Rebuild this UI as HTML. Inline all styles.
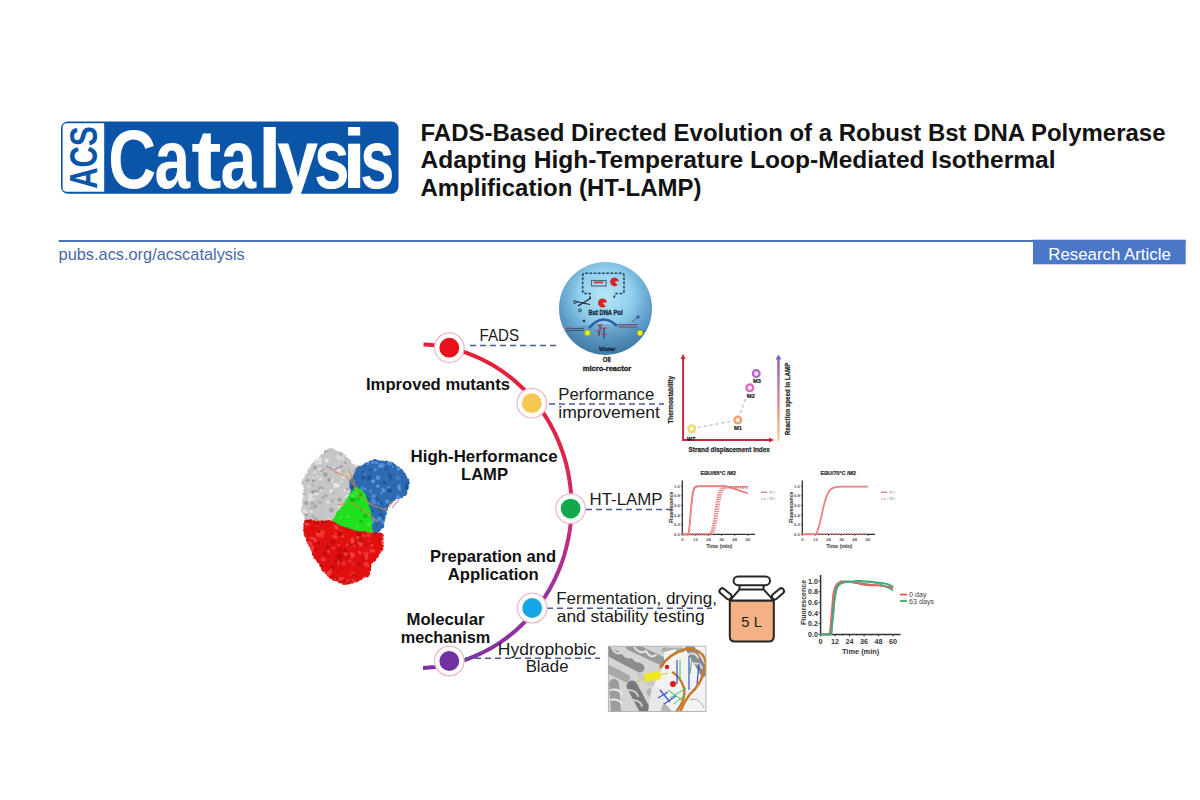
<!DOCTYPE html>
<html><head><meta charset="utf-8">
<style>
html,body{margin:0;padding:0;background:#fff;}
body{width:1200px;height:800px;overflow:hidden;position:relative;font-family:"Liberation Sans",sans-serif;}
svg{position:absolute;left:0;top:0;}
text{font-family:"Liberation Sans",sans-serif;}
</style></head>
<body>
<svg width="1200" height="800" viewBox="0 0 1200 800">
<defs>
  <linearGradient id="arcg" gradientUnits="userSpaceOnUse" x1="0" y1="344" x2="0" y2="668">
    <stop offset="0" stop-color="#e5203a"/>
    <stop offset="0.35" stop-color="#dc2448"/>
    <stop offset="0.55" stop-color="#c82c78"/>
    <stop offset="0.75" stop-color="#a0309c"/>
    <stop offset="1" stop-color="#7e32a2"/>
  </linearGradient>
  <radialGradient id="sph" cx="0.5" cy="0.36" r="0.62">
    <stop offset="0" stop-color="#b6e6f6"/>
    <stop offset="0.45" stop-color="#92d0ec"/>
    <stop offset="0.8" stop-color="#5e9ecb"/>
    <stop offset="1" stop-color="#4a84b4"/>
  </radialGradient>
  <linearGradient id="rarrow" x1="0" y1="1" x2="0" y2="0">
    <stop offset="0" stop-color="#e8dc98"/>
    <stop offset="0.45" stop-color="#e88a8a"/>
    <stop offset="1" stop-color="#8a62c0"/>
  </linearGradient>
</defs>

<!-- ===== Header ===== -->
<!-- logo -->
<rect x="61" y="121.5" width="337.5" height="72.2" rx="7" fill="#0b55a8"/>
<path d="M67 123.2 H104.2 V191.8 H67 Q62.6 191.8 62.6 187.4 V127.6 Q62.6 123.2 67 123.2 Z" fill="#fff"/>
<text transform="translate(96.5 188.76) rotate(-90) scale(0.759 1)" font-size="39" font-weight="700" fill="#0b55a8">ACS</text>
<g font-size="84" font-weight="700" fill="#fff">
<text transform="translate(108.31 188) scale(0.790 1)" x="0" y="0">C</text>
<text transform="translate(154.39 188) scale(0.762 1)" x="0" y="0">a</text>
<text transform="translate(191.21 188) scale(1.085 1)" x="0" y="0">t</text>
<text transform="translate(220.39 188) scale(0.762 1)" x="0" y="0">a</text>
<text transform="translate(257.6 188) scale(1.05 1)" x="0" y="0">l</text>
<text transform="translate(276.88 188) scale(0.881 1)" x="0" y="0">y</text>
<text transform="translate(313.96 188) scale(0.762 1)" x="0" y="0">s</text>
<text transform="translate(341.94 188) scale(1.044 1)" x="0" y="0">i</text>
<text transform="translate(360.31 188) scale(0.731 1)" x="0" y="0">s</text>
</g>
<!-- title -->
<g fill="#121212" font-weight="700" font-size="23.5">
<text x="420.5" y="140.8" textLength="745" lengthAdjust="spacingAndGlyphs">FADS-Based Directed Evolution of a Robust Bst DNA Polymerase</text>
<text x="420.5" y="168.3" textLength="635" lengthAdjust="spacingAndGlyphs">Adapting High-Temperature Loop-Mediated Isothermal</text>
<text x="420.5" y="195.8" textLength="281" lengthAdjust="spacingAndGlyphs">Amplification (HT-LAMP)</text>
</g>

<!-- rule + journal -->
<rect x="58.7" y="240" width="1127" height="2" fill="#4a72b8"/>
<text x="58.6" y="259.5" font-size="16.2" fill="#4a68a6" textLength="186.2" lengthAdjust="spacingAndGlyphs">pubs.acs.org/acscatalysis</text>
<rect x="1033" y="239.7" width="152.7" height="24.6" fill="#4a78c6"/>
<text x="1048.3" y="259.8" font-size="16.8" fill="#fff" textLength="122.5" lengthAdjust="spacingAndGlyphs">Research Article</text>

<!-- ===== Diagram ===== -->
<!-- arc -->
<path d="M423.5 344.4 L429.4 344.8 L435.3 345.4 L441.2 346.3 L447.0 347.4 L452.8 348.7 L458.5 350.3 L464.1 352.0 L469.7 354.1 L475.3 356.3 L480.7 358.7 L486.0 361.4 L491.3 364.3 L496.4 367.4 L501.4 370.7 L506.3 374.1 L511.1 377.8 L515.7 381.7 L520.1 385.7 L524.5 389.9 L528.6 394.3 L532.6 398.9 L536.5 403.6 L540.1 408.4 L543.6 413.4 L546.9 418.6 L550.0 423.8 L552.9 429.2 L555.6 434.7 L558.1 440.3 L560.4 446.0 L562.5 451.8 L564.4 457.7 L566.1 463.6 L567.5 469.6 L568.7 475.6 L569.7 481.7 L570.5 487.9 L571.1 494.0 L571.4 500.2 L571.5 506.4 L571.4 512.5 L571.0 518.7 L570.5 524.9 L569.7 531.0 L568.6 537.1 L567.4 543.1 L565.9 549.1 L564.3 555.0 L562.4 560.9 L560.2 566.7 L557.9 572.4 L555.4 577.9 L552.7 583.4 L549.8 588.8 L546.6 594.1 L543.3 599.2 L539.8 604.2 L536.2 609.0 L532.3 613.7 L528.3 618.2 L524.1 622.6 L519.8 626.8 L515.3 630.9 L510.7 634.7 L505.9 638.4 L501.0 641.8 L496.0 645.1 L490.8 648.2 L485.6 651.0 L480.2 653.7 L474.8 656.1 L469.3 658.3 L463.7 660.3 L458.0 662.1 L452.3 663.6 L446.5 664.9 L440.7 666.0 L434.8 666.9 L428.9 667.5 L423.0 667.9" fill="none" stroke="url(#arcg)" stroke-width="4"/>

<!-- dashed connectors -->
<g stroke="#4a5a92" stroke-width="1.5" stroke-dasharray="6 4" fill="none">
<line x1="470" y1="345.5" x2="556" y2="345.5"/>
<line x1="549" y1="404" x2="664" y2="404"/>
<line x1="586" y1="509.6" x2="672" y2="509.6"/>
<line x1="547" y1="608.3" x2="712" y2="608.3"/>
<line x1="465" y1="658.3" x2="600" y2="658.3"/>
</g>

<!-- nodes -->
<g stroke="#ecb6c6" stroke-width="1.2" fill="#fff">
<circle cx="449.3" cy="347.7" r="14.8"/>
<circle cx="531.8" cy="403.2" r="14.8"/>
<circle cx="570.6" cy="508.6" r="14.8"/>
<circle cx="532.2" cy="608" r="14.8"/>
<circle cx="449.3" cy="661" r="14.8"/>
</g>
<circle cx="449.3" cy="347.7" r="9.9" fill="#e8101c"/>
<circle cx="531.8" cy="403.2" r="9.9" fill="#f6c852"/>
<circle cx="570.6" cy="508.6" r="9.9" fill="#12a84e"/>
<circle cx="532.2" cy="608" r="9.9" fill="#14a6e6"/>
<circle cx="449.3" cy="661" r="9.9" fill="#7030a0"/>

<!-- regular labels -->
<g fill="#1a1a1a" font-size="16.5">
<text x="479.5" y="340.5" textLength="39.5" lengthAdjust="spacingAndGlyphs">FADS</text>
<text x="558.3" y="400" textLength="96" lengthAdjust="spacingAndGlyphs">Performance</text>
<text x="558.3" y="418.2" textLength="101.5" lengthAdjust="spacingAndGlyphs">improvement</text>
<text x="589.5" y="505.3" textLength="73" lengthAdjust="spacingAndGlyphs">HT-LAMP</text>
<text x="556.2" y="603.6" textLength="160.8" lengthAdjust="spacingAndGlyphs">Fermentation, drying,</text>
<text x="556.8" y="622.1" textLength="147.8" lengthAdjust="spacingAndGlyphs">and stability testing</text>
<text x="497.8" y="654.5" textLength="98.2" lengthAdjust="spacingAndGlyphs">Hydrophobic</text>
<text x="525.7" y="671.8" textLength="42.8" lengthAdjust="spacingAndGlyphs">Blade</text>
</g>
<!-- bold labels -->
<g fill="#111" font-size="17" font-weight="700">
<text x="366" y="390" textLength="144" lengthAdjust="spacingAndGlyphs">Improved mutants</text>
<text x="410.6" y="461.6" textLength="147" lengthAdjust="spacingAndGlyphs">High-Herformance</text>
<text x="461" y="480" textLength="47" lengthAdjust="spacingAndGlyphs">LAMP</text>
<text x="430" y="562" textLength="126" lengthAdjust="spacingAndGlyphs">Preparation and</text>
<text x="447.8" y="580" textLength="91" lengthAdjust="spacingAndGlyphs">Application</text>
<text x="406.5" y="624.7" textLength="78" lengthAdjust="spacingAndGlyphs">Molecular</text>
<text x="400.8" y="642.7" textLength="89.5" lengthAdjust="spacingAndGlyphs">mechanism</text>
</g>

<!-- sphere -->
<circle cx="605.5" cy="308.4" r="46.5" fill="url(#sph)"/>
<clipPath id="sphc"><circle cx="605.5" cy="308.4" r="46.5"/></clipPath>
<g clip-path="url(#sphc)"><ellipse cx="605.5" cy="360" rx="70" ry="36" fill="#2e5e80" opacity="0.22"/></g>
<!-- dashed bubble -->
<path d="M590 299 L590 293.5 L585 293.5 Q582.7 293.5 582.7 291 V275.5 Q582.7 273.2 585 273.2 H621.5 Q624 273.2 624 275.5 V291 Q624 293.5 621.5 293.5 H616 L613 299" fill="none" stroke="#2a4868" stroke-width="1.6" stroke-dasharray="2.8 1.4"/>
<rect x="591.5" y="280.5" width="14.5" height="5.5" fill="none" stroke="#4a6a7a" stroke-width="1.1"/>
<path d="M594 282.4 H603" stroke="#e02828" stroke-width="1.8" fill="none"/>
<path d="M614.50 281.80 L617.61 284.91 A4.40 4.40 0 1 1 618.83 281.04 Z" fill="#d82424"/>
<path d="M602.50 303.00 L605.68 306.18 A4.50 4.50 0 1 1 606.93 302.22 Z" fill="#d82424"/>
<!-- scissors -->
<path d="M576 301.5 L590 304.5 M578 306 L591 298" stroke="#1a2030" stroke-width="1.2" fill="none"/>
<circle cx="575" cy="302" r="1.4" fill="none" stroke="#1a2a48" stroke-width="0.9"/>
<circle cx="580" cy="310.5" r="1.4" fill="none" stroke="#1a2a48" stroke-width="0.9"/>
<text x="588.5" y="314.5" font-size="6.6" font-weight="700" fill="#1a2a48" stroke="#1a2a48" stroke-width="0.35" textLength="34" lengthAdjust="spacingAndGlyphs">Bst DNA Pol</text>
<!-- blue arc -->
<path d="M589 328 Q603 312 617 326" stroke="#2c5ea8" stroke-width="2.6" fill="none"/>
<g stroke="#c03040" stroke-width="1">
<path d="M597 325 H603 M601 328 H607 M596 331 H602 M601 334 H607"/>
</g>
<g stroke="#1a2a60" stroke-width="1">
<path d="M600 325 V330 M604 328 V333 M599 331 V336 M604 334 V339"/>
</g>
<!-- strands -->
<path d="M566 328.5 H584 M566 330.5 H584" stroke="#3a4a58" stroke-width="0.8"/>
<path d="M567 328 H572" stroke="#c04050" stroke-width="1"/>
<path d="M618 324.5 H638 M618 327 H638" stroke="#4a4a6a" stroke-width="0.8"/>
<path d="M619 325.7 H637" stroke="#c05070" stroke-width="0.8"/>
<circle cx="587.5" cy="333" r="3" fill="#e8ee20" stroke="#6a8a20" stroke-width="0.6"/>
<circle cx="640" cy="333" r="3" fill="#e8ee20" stroke="#6a8a20" stroke-width="0.6"/>
<circle cx="584" cy="321" r="1.2" fill="#1a2a60"/>
<circle cx="638" cy="317" r="1.2" fill="none" stroke="#1a2a60" stroke-width="0.8"/>
<path d="M632 322 L637 318" stroke="#3a4a6a" stroke-width="0.7"/>
<text x="599" y="351.3" font-size="6.2" font-weight="700" fill="#1a2a40" stroke="#1a2a40" stroke-width="0.3" textLength="16.3" lengthAdjust="spacingAndGlyphs">Water</text>
<text x="602.8" y="361.7" font-size="6.4" font-weight="700" fill="#222" stroke="#222" stroke-width="0.3" textLength="8" lengthAdjust="spacingAndGlyphs">Oil</text>
<text x="582.8" y="370.7" font-size="7.4" font-weight="700" fill="#222" stroke="#222" stroke-width="0.3" textLength="48.4" lengthAdjust="spacingAndGlyphs">micro-reactor</text>


<!-- scatter chart -->
<path d="M683.1 441 V358" stroke="#c42a3a" stroke-width="2" fill="none"/>
<path d="M680.6 359 L683.1 353.8 L685.6 359 Z" fill="#c42a3a"/>
<path d="M682.1 440 H770" stroke="#c42a3a" stroke-width="2" fill="none"/>
<path d="M769 437.5 L774.2 440 L769 442.5 Z" fill="#c42a3a"/>
<rect x="777.2" y="358" width="2.5" height="83" fill="url(#rarrow)"/>
<path d="M775.6 359.5 L778.45 354.5 L781.3 359.5 Z" fill="#7e5cc0"/>
<text transform="translate(672.8 399.8) rotate(-90)" font-size="6.6" font-weight="700" fill="#2a2a2a" stroke="#2a2a2a" stroke-width="0.25" text-anchor="middle" textLength="47.6" lengthAdjust="spacingAndGlyphs">Thermostability</text>
<text transform="translate(789.5 399) rotate(-90)" font-size="7.2" font-weight="700" fill="#2a2a2a" stroke="#2a2a2a" stroke-width="0.25" text-anchor="middle" textLength="72.6" lengthAdjust="spacingAndGlyphs">Reaction speed in LAMP</text>
<text x="688.6" y="452.3" font-size="7.2" font-weight="700" fill="#2a2a2a" stroke="#2a2a2a" stroke-width="0.25" textLength="81.2" lengthAdjust="spacingAndGlyphs">Strand displacement index</text>
<path d="M691.7 428.75 L737.8 420 L749.8 387.7" stroke="#c8c8c8" stroke-width="1.4" stroke-dasharray="3.5 2.5" fill="none"/>
<circle cx="691.7" cy="428.75" r="3.4" fill="#fdf8d0" stroke="#eedc66" stroke-width="2.2"/>
<circle cx="737.8" cy="420" r="3.4" fill="#fde8d8" stroke="#f0a070" stroke-width="2.2"/>
<circle cx="749.8" cy="387.7" r="3.4" fill="#f8e0f0" stroke="#dc6ac0" stroke-width="2.2"/>
<circle cx="756.25" cy="373.6" r="3.4" fill="#f0e0f8" stroke="#b260c8" stroke-width="2.2"/>
<g font-size="5.6" font-weight="700" fill="#222" stroke="#222" stroke-width="0.2" text-anchor="middle">
<text x="691" y="440.5">WT</text>
<text x="738" y="430">M1</text>
<text x="751" y="397.5">M2</text>
<text x="757" y="383">M3</text>
</g>


<!-- charts -->
<path d="M682.3 480.4 V534.4 H755.0" stroke="#333" stroke-width="1.3" fill="none"/>
<line x1="680.8" y1="534.4" x2="682.3" y2="534.4" stroke="#333" stroke-width="0.8"/>
<text x="679.8" y="535.8" font-size="4.2" font-weight="700" fill="#555" text-anchor="end">0.0</text>
<line x1="680.8" y1="524.7" x2="682.3" y2="524.7" stroke="#333" stroke-width="0.8"/>
<text x="679.8" y="526.1" font-size="4.2" font-weight="700" fill="#555" text-anchor="end">0.2</text>
<line x1="680.8" y1="515.1" x2="682.3" y2="515.1" stroke="#333" stroke-width="0.8"/>
<text x="679.8" y="516.5" font-size="4.2" font-weight="700" fill="#555" text-anchor="end">0.4</text>
<line x1="680.8" y1="505.4" x2="682.3" y2="505.4" stroke="#333" stroke-width="0.8"/>
<text x="679.8" y="506.8" font-size="4.2" font-weight="700" fill="#555" text-anchor="end">0.6</text>
<line x1="680.8" y1="495.8" x2="682.3" y2="495.8" stroke="#333" stroke-width="0.8"/>
<text x="679.8" y="497.2" font-size="4.2" font-weight="700" fill="#555" text-anchor="end">0.8</text>
<line x1="680.8" y1="486.1" x2="682.3" y2="486.1" stroke="#333" stroke-width="0.8"/>
<text x="679.8" y="487.5" font-size="4.2" font-weight="700" fill="#555" text-anchor="end">1.0</text>
<line x1="682.3" y1="534.4" x2="682.3" y2="535.9" stroke="#333" stroke-width="0.8"/>
<text x="682.3" y="541.4" font-size="4.2" font-weight="700" fill="#555" text-anchor="middle">0</text>
<line x1="695.4" y1="534.4" x2="695.4" y2="535.9" stroke="#333" stroke-width="0.8"/>
<text x="695.4" y="541.4" font-size="4.2" font-weight="700" fill="#555" text-anchor="middle">12</text>
<line x1="708.5" y1="534.4" x2="708.5" y2="535.9" stroke="#333" stroke-width="0.8"/>
<text x="708.5" y="541.4" font-size="4.2" font-weight="700" fill="#555" text-anchor="middle">24</text>
<line x1="721.6" y1="534.4" x2="721.6" y2="535.9" stroke="#333" stroke-width="0.8"/>
<text x="721.6" y="541.4" font-size="4.2" font-weight="700" fill="#555" text-anchor="middle">36</text>
<line x1="734.7" y1="534.4" x2="734.7" y2="535.9" stroke="#333" stroke-width="0.8"/>
<text x="734.7" y="541.4" font-size="4.2" font-weight="700" fill="#555" text-anchor="middle">48</text>
<line x1="747.8" y1="534.4" x2="747.8" y2="535.9" stroke="#333" stroke-width="0.8"/>
<text x="747.8" y="541.4" font-size="4.2" font-weight="700" fill="#555" text-anchor="middle">60</text>
<text x="718.3" y="474.6" font-size="5.4" font-weight="700" fill="#2a2a2a" stroke="#2a2a2a" stroke-width="0.2" text-anchor="middle">EBU/65°C /M2</text>
<text x="719.3" y="547.9" font-size="5.2" font-weight="700" fill="#555" stroke="#555" stroke-width="0.15" text-anchor="middle">Time (min)</text>
<text transform="translate(673.3 507.4) rotate(-90)" font-size="4.8" font-weight="700" fill="#444" stroke="#444" stroke-width="0.15" text-anchor="middle">Fluorescence</text>
<path d="M682.3 534.4 L682.8 534.4 L683.4 534.4 L683.9 534.4 L684.5 534.4 L685.0 534.4 L685.6 534.4 L686.1 534.4 L686.7 534.4 L687.2 534.4 L687.8 534.4 L688.3 533.4 L688.9 530.3 L689.4 526.0 L689.9 520.4 L690.5 514.0 L691.0 507.4 L691.6 501.5 L692.1 496.6 L692.7 493.0 L693.2 490.5 L693.8 488.9 L694.3 487.8 L694.9 487.2 L695.4 486.7 L695.9 486.5 L696.5 486.3 L697.0 486.2 L697.6 486.2 L698.1 486.2 L698.7 486.1 L699.2 486.1 L699.8 486.1 L700.3 486.1 L700.9 486.1 L701.4 486.1 L702.0 486.1 L702.5 486.1 L703.0 486.1 L703.6 486.1 L704.1 486.1 L704.7 486.1 L705.2 486.1 L705.8 486.1 L706.3 486.1 L706.9 486.1 L707.4 486.1 L708.0 486.1 L708.5 486.1 L709.0 486.1 L709.6 486.1 L710.1 486.1 L710.7 486.1 L711.2 486.1 L711.8 486.1 L712.3 486.1 L712.9 486.1 L713.4 486.1 L714.0 486.1 L714.5 486.1 L715.1 486.1 L715.6 486.1 L716.1 486.1 L716.7 486.1 L717.2 486.1 L717.8 486.1 L718.3 486.1 L718.9 486.1 L719.4 486.1 L720.0 486.1 L720.5 486.1 L721.1 486.1 L721.6 486.1 L722.1 486.1 L722.7 486.1 L723.2 486.1 L723.8 486.1 L724.3 486.1 L724.9 486.1 L725.4 486.1 L726.0 486.1 L726.5 486.3 L727.1 486.5 L727.6 486.6 L728.2 486.8 L728.7 487.0 L729.2 487.2 L729.8 487.4 L730.3 487.5 L730.9 487.7 L731.4 487.9 L732.0 488.1 L732.5 488.3 L733.1 488.5 L733.6 488.6 L734.2 488.8 L734.7 489.0 L735.2 489.2 L735.8 489.4 L736.3 489.5 L736.9 489.7 L737.4 489.9 L738.0 490.1 L738.5 490.3 L739.1 490.4 L739.6 490.6 L740.2 490.8 L740.7 491.0 L741.3 491.2 L741.8 491.4 L742.3 491.5 L742.9 491.7 L743.4 491.9 L744.0 492.1 L744.5 492.3 L745.1 492.4 L745.6 492.6 L746.2 492.8 L746.7 493.0 L747.3 493.2 L747.8 493.3" stroke="#e86a6a" stroke-width="1.5" fill="none" />
<path d="M682.3 534.4 L682.8 534.4 L683.4 534.4 L683.9 534.4 L684.5 534.4 L685.0 534.4 L685.6 534.4 L686.1 534.4 L686.7 534.4 L687.2 534.4 L687.8 534.4 L688.3 534.4 L688.9 532.4 L689.4 529.1 L689.9 524.6 L690.5 519.1 L691.0 512.9 L691.6 506.8 L692.1 501.3 L692.7 496.8 L693.2 493.4 L693.8 491.1 L694.3 489.5 L694.9 488.4 L695.4 487.7 L695.9 487.3 L696.5 487.0 L697.0 486.9 L697.6 486.8 L698.1 486.7 L698.7 486.7 L699.2 486.6 L699.8 486.6 L700.3 486.6 L700.9 486.6 L701.4 486.6 L702.0 486.6 L702.5 486.6 L703.0 486.6 L703.6 486.6 L704.1 486.6 L704.7 486.6 L705.2 486.6 L705.8 486.6 L706.3 486.6 L706.9 486.6 L707.4 486.6 L708.0 486.6 L708.5 486.6 L709.0 486.6 L709.6 486.6 L710.1 486.6 L710.7 486.6 L711.2 486.6 L711.8 486.6 L712.3 486.6 L712.9 486.6 L713.4 486.6 L714.0 486.6 L714.5 486.6 L715.1 486.6 L715.6 486.6 L716.1 486.6 L716.7 486.6 L717.2 486.6 L717.8 486.6 L718.3 486.6 L718.9 486.6 L719.4 486.6 L720.0 486.6 L720.5 486.6 L721.1 486.6 L721.6 486.6 L722.1 486.6 L722.7 486.6 L723.2 486.6 L723.8 486.6 L724.3 486.6 L724.9 486.6 L725.4 486.6 L726.0 486.6 L726.5 486.6 L727.1 486.6 L727.6 486.6 L728.2 486.6 L728.7 486.6 L729.2 486.6 L729.8 486.6 L730.3 486.6 L730.9 486.6 L731.4 486.6 L732.0 486.6 L732.5 486.6 L733.1 486.6 L733.6 486.6 L734.2 486.6 L734.7 486.6 L735.2 486.6 L735.8 486.6 L736.3 486.6 L736.9 486.6 L737.4 486.6 L738.0 486.6 L738.5 486.6 L739.1 486.6 L739.6 486.6 L740.2 486.6 L740.7 486.6 L741.3 486.6 L741.8 486.6 L742.3 486.6 L742.9 486.6 L743.4 486.6 L744.0 486.6 L744.5 486.6 L745.1 486.6 L745.6 486.6 L746.2 486.6 L746.7 486.6 L747.3 486.6 L747.8 486.6" stroke="#ee8a8a" stroke-width="1.3" fill="none" />
<path d="M682.3 534.4 L682.8 534.4 L683.4 534.4 L683.9 534.4 L684.5 534.4 L685.0 534.4 L685.6 534.4 L686.1 534.4 L686.7 534.4 L687.2 534.4 L687.8 534.4 L688.3 534.4 L688.9 534.4 L689.4 534.4 L689.9 534.4 L690.5 534.4 L691.0 534.4 L691.6 534.4 L692.1 534.4 L692.7 534.4 L693.2 534.4 L693.8 534.4 L694.3 534.4 L694.9 534.4 L695.4 534.4 L695.9 534.4 L696.5 534.4 L697.0 534.4 L697.6 534.4 L698.1 534.4 L698.7 534.4 L699.2 534.4 L699.8 534.4 L700.3 534.4 L700.9 534.4 L701.4 534.4 L702.0 534.4 L702.5 534.4 L703.0 534.4 L703.6 534.4 L704.1 534.4 L704.7 534.4 L705.2 534.4 L705.8 534.4 L706.3 534.4 L706.9 534.4 L707.4 534.4 L708.0 534.4 L708.5 534.4 L709.0 534.4 L709.6 534.0 L710.1 533.5 L710.7 532.7 L711.2 531.8 L711.8 530.6 L712.3 529.0 L712.9 527.1 L713.4 524.7 L714.0 521.8 L714.5 518.6 L715.1 515.0 L715.6 511.3 L716.1 507.6 L716.7 504.0 L717.2 500.8 L717.8 497.9 L718.3 495.6 L718.9 493.6 L719.4 492.0 L720.0 490.8 L720.5 489.9 L721.1 489.2 L721.6 488.6 L722.1 488.2 L722.7 487.9 L723.2 487.7 L723.8 487.5 L724.3 487.4 L724.9 487.3 L725.4 487.2 L726.0 487.2 L726.5 487.2 L727.1 487.1 L727.6 487.1 L728.2 487.1 L728.7 487.1 L729.2 487.1 L729.8 487.1 L730.3 487.1 L730.9 487.1 L731.4 487.1 L732.0 487.1 L732.5 487.1 L733.1 487.1 L733.6 487.1 L734.2 487.1 L734.7 487.1 L735.2 487.1 L735.8 487.1 L736.3 487.1 L736.9 487.1 L737.4 487.1 L738.0 487.1 L738.5 487.1 L739.1 487.1 L739.6 487.1 L740.2 487.1 L740.7 487.1 L741.3 487.1 L741.8 487.1 L742.3 487.1 L742.9 487.1 L743.4 487.1 L744.0 487.1 L744.5 487.1 L745.1 487.1 L745.6 487.1 L746.2 487.1 L746.7 487.1 L747.3 487.1 L747.8 487.1" stroke="#e86a6a" stroke-width="2.4" fill="none" stroke-dasharray="1.2 1.2"/>
<path d="M682.3 534.4 L682.8 534.4 L683.4 534.4 L683.9 534.4 L684.5 534.4 L685.0 534.4 L685.6 534.4 L686.1 534.4 L686.7 534.4 L687.2 534.4 L687.8 534.4 L688.3 534.4 L688.9 534.4 L689.4 534.4 L689.9 534.4 L690.5 534.4 L691.0 534.4 L691.6 534.4 L692.1 534.4 L692.7 534.4 L693.2 534.4 L693.8 534.4 L694.3 534.4 L694.9 534.4 L695.4 534.4 L695.9 534.4 L696.5 534.4 L697.0 534.4 L697.6 534.4 L698.1 534.4 L698.7 534.4 L699.2 534.4 L699.8 534.4 L700.3 534.4 L700.9 534.4 L701.4 534.4 L702.0 534.4 L702.5 534.4 L703.0 534.4 L703.6 534.4 L704.1 534.4 L704.7 534.4 L705.2 534.4 L705.8 534.4 L706.3 534.4 L706.9 534.4 L707.4 534.4 L708.0 534.4 L708.5 534.4 L709.0 534.4 L709.6 534.4 L710.1 534.4 L710.7 534.4 L711.2 534.4 L711.8 534.0 L712.3 533.5 L712.9 532.8 L713.4 531.8 L714.0 530.6 L714.5 529.1 L715.1 527.1 L715.6 524.8 L716.1 522.0 L716.7 518.8 L717.2 515.2 L717.8 511.5 L718.3 507.9 L718.9 504.3 L719.4 501.1 L720.0 498.3 L720.5 496.0 L721.1 494.0 L721.6 492.5 L722.1 491.3 L722.7 490.3 L723.2 489.6 L723.8 489.1 L724.3 488.7 L724.9 488.4 L725.4 488.2 L726.0 488.0 L726.5 487.9 L727.1 487.8 L727.6 487.7 L728.2 487.7 L728.7 487.6 L729.2 487.6 L729.8 487.6 L730.3 487.6 L730.9 487.6 L731.4 487.6 L732.0 487.6 L732.5 487.6 L733.1 487.6 L733.6 487.6 L734.2 487.6 L734.7 487.6 L735.2 487.6 L735.8 487.6 L736.3 487.6 L736.9 487.5 L737.4 487.5 L738.0 487.5 L738.5 487.5 L739.1 487.5 L739.6 487.5 L740.2 487.5 L740.7 487.5 L741.3 487.5 L741.8 487.5 L742.3 487.5 L742.9 487.5 L743.4 487.5 L744.0 487.5 L744.5 487.5 L745.1 487.5 L745.6 487.5 L746.2 487.5 L746.7 487.5 L747.3 487.5 L747.8 487.5" stroke="#ee8080" stroke-width="2.4" fill="none" stroke-dasharray="1.2 1.2"/>
<line x1="761.0" y1="492.3" x2="767.3" y2="492.3" stroke="#e87878" stroke-width="1.3"/>
<text x="769.3" y="493.9" font-size="4.4" fill="#888">PC</text>
<line x1="761.0" y1="498.8" x2="767.3" y2="498.8" stroke="#e87878" stroke-width="1.3" stroke-dasharray="1.5 1.5"/>
<text x="769.3" y="500.4" font-size="4.4" fill="#888">NC</text>
<path d="M802.3 480.4 V534.4 H875.0" stroke="#333" stroke-width="1.3" fill="none"/>
<line x1="800.8" y1="534.4" x2="802.3" y2="534.4" stroke="#333" stroke-width="0.8"/>
<text x="799.8" y="535.8" font-size="4.2" font-weight="700" fill="#555" text-anchor="end">0.0</text>
<line x1="800.8" y1="524.7" x2="802.3" y2="524.7" stroke="#333" stroke-width="0.8"/>
<text x="799.8" y="526.1" font-size="4.2" font-weight="700" fill="#555" text-anchor="end">0.2</text>
<line x1="800.8" y1="515.1" x2="802.3" y2="515.1" stroke="#333" stroke-width="0.8"/>
<text x="799.8" y="516.5" font-size="4.2" font-weight="700" fill="#555" text-anchor="end">0.4</text>
<line x1="800.8" y1="505.4" x2="802.3" y2="505.4" stroke="#333" stroke-width="0.8"/>
<text x="799.8" y="506.8" font-size="4.2" font-weight="700" fill="#555" text-anchor="end">0.6</text>
<line x1="800.8" y1="495.8" x2="802.3" y2="495.8" stroke="#333" stroke-width="0.8"/>
<text x="799.8" y="497.2" font-size="4.2" font-weight="700" fill="#555" text-anchor="end">0.8</text>
<line x1="800.8" y1="486.1" x2="802.3" y2="486.1" stroke="#333" stroke-width="0.8"/>
<text x="799.8" y="487.5" font-size="4.2" font-weight="700" fill="#555" text-anchor="end">1.0</text>
<line x1="802.3" y1="534.4" x2="802.3" y2="535.9" stroke="#333" stroke-width="0.8"/>
<text x="802.3" y="541.4" font-size="4.2" font-weight="700" fill="#555" text-anchor="middle">0</text>
<line x1="815.4" y1="534.4" x2="815.4" y2="535.9" stroke="#333" stroke-width="0.8"/>
<text x="815.4" y="541.4" font-size="4.2" font-weight="700" fill="#555" text-anchor="middle">12</text>
<line x1="828.5" y1="534.4" x2="828.5" y2="535.9" stroke="#333" stroke-width="0.8"/>
<text x="828.5" y="541.4" font-size="4.2" font-weight="700" fill="#555" text-anchor="middle">24</text>
<line x1="841.6" y1="534.4" x2="841.6" y2="535.9" stroke="#333" stroke-width="0.8"/>
<text x="841.6" y="541.4" font-size="4.2" font-weight="700" fill="#555" text-anchor="middle">36</text>
<line x1="854.7" y1="534.4" x2="854.7" y2="535.9" stroke="#333" stroke-width="0.8"/>
<text x="854.7" y="541.4" font-size="4.2" font-weight="700" fill="#555" text-anchor="middle">48</text>
<line x1="867.8" y1="534.4" x2="867.8" y2="535.9" stroke="#333" stroke-width="0.8"/>
<text x="867.8" y="541.4" font-size="4.2" font-weight="700" fill="#555" text-anchor="middle">60</text>
<text x="838.3" y="474.6" font-size="5.4" font-weight="700" fill="#2a2a2a" stroke="#2a2a2a" stroke-width="0.2" text-anchor="middle">EBU/70°C /M2</text>
<text x="839.3" y="547.9" font-size="5.2" font-weight="700" fill="#555" stroke="#555" stroke-width="0.15" text-anchor="middle">Time (min)</text>
<text transform="translate(793.3 507.4) rotate(-90)" font-size="4.8" font-weight="700" fill="#444" stroke="#444" stroke-width="0.15" text-anchor="middle">Fluorescence</text>
<path d="M802.3 534.4 L802.8 534.4 L803.4 534.4 L803.9 534.4 L804.5 534.4 L805.0 534.4 L805.6 534.4 L806.1 534.4 L806.7 534.4 L807.2 534.4 L807.8 534.4 L808.3 534.4 L808.9 534.4 L809.4 534.4 L809.9 534.4 L810.5 534.4 L811.0 534.4 L811.6 534.4 L812.1 534.4 L812.7 534.4 L813.2 534.4 L813.8 534.4 L814.3 534.4 L814.9 534.4 L815.4 534.4 L815.9 534.4 L816.5 533.3 L817.0 532.0 L817.6 530.6 L818.1 529.0 L818.7 527.2 L819.2 525.3 L819.8 523.2 L820.3 521.0 L820.9 518.6 L821.4 516.2 L822.0 513.8 L822.5 511.4 L823.0 508.9 L823.6 506.6 L824.1 504.4 L824.7 502.3 L825.2 500.4 L825.8 498.6 L826.3 497.0 L826.9 495.6 L827.4 494.3 L828.0 493.2 L828.5 492.2 L829.0 491.4 L829.6 490.6 L830.1 490.0 L830.7 489.5 L831.2 489.0 L831.8 488.6 L832.3 488.3 L832.9 488.0 L833.4 487.8 L834.0 487.6 L834.5 487.4 L835.1 487.3 L835.6 487.2 L836.1 487.1 L836.7 487.0 L837.2 486.9 L837.8 486.9 L838.3 486.8 L838.9 486.8 L839.4 486.8 L840.0 486.7 L840.5 486.7 L841.1 486.7 L841.6 486.7 L842.1 486.7 L842.7 486.6 L843.2 486.6 L843.8 486.6 L844.3 486.6 L844.9 486.6 L845.4 486.6 L846.0 486.6 L846.5 486.6 L847.1 486.6 L847.6 486.6 L848.2 486.6 L848.7 486.6 L849.2 486.6 L849.8 486.6 L850.3 486.6 L850.9 486.6 L851.4 486.6 L852.0 486.6 L852.5 486.6 L853.1 486.6 L853.6 486.6 L854.2 486.6 L854.7 486.6 L855.2 486.6 L855.8 486.6 L856.3 486.6 L856.9 486.6 L857.4 486.6 L858.0 486.6 L858.5 486.6 L859.1 486.6 L859.6 486.6 L860.2 486.6 L860.7 486.6 L861.3 486.6 L861.8 486.6 L862.3 486.6 L862.9 486.6 L863.4 486.6 L864.0 486.6 L864.5 486.6 L865.1 486.6 L865.6 486.6 L866.2 486.6 L866.7 486.6 L867.3 486.6 L867.8 486.6" stroke="#ee8080" stroke-width="1.8" fill="none" />
<path d="M802.3 534.2 L802.8 534.2 L803.4 534.2 L803.9 534.2 L804.5 534.2 L805.0 534.2 L805.6 534.2 L806.1 534.2 L806.7 534.2 L807.2 534.2 L807.8 534.2 L808.3 534.2 L808.9 534.2 L809.4 534.2 L809.9 534.2 L810.5 534.2 L811.0 534.2 L811.6 534.2 L812.1 534.2 L812.7 534.2 L813.2 534.2 L813.8 534.2 L814.3 534.2 L814.9 534.2 L815.4 534.2 L815.9 534.2 L816.5 534.2 L817.0 534.2 L817.6 534.2 L818.1 534.2 L818.7 534.2 L819.2 534.2 L819.8 534.2 L820.3 534.2 L820.9 534.2 L821.4 534.2 L822.0 534.2 L822.5 534.2 L823.0 534.2 L823.6 534.2 L824.1 534.2 L824.7 534.2 L825.2 534.2 L825.8 534.2 L826.3 534.2 L826.9 534.2 L827.4 534.2 L828.0 534.2 L828.5 534.2 L829.0 534.2 L829.6 534.2 L830.1 534.2 L830.7 534.2 L831.2 534.2 L831.8 534.2 L832.3 534.2 L832.9 534.2 L833.4 534.2 L834.0 534.2 L834.5 534.2 L835.1 534.2 L835.6 534.2 L836.1 534.2 L836.7 534.2 L837.2 534.2 L837.8 534.2 L838.3 534.2 L838.9 534.2 L839.4 534.2 L840.0 534.2 L840.5 534.2 L841.1 534.2 L841.6 534.2 L842.1 534.2 L842.7 534.2 L843.2 534.2 L843.8 534.2 L844.3 534.2 L844.9 534.2 L845.4 534.2 L846.0 534.2 L846.5 534.2 L847.1 534.2 L847.6 534.2 L848.2 534.2 L848.7 534.2 L849.2 534.2 L849.8 534.2 L850.3 534.2 L850.9 534.2 L851.4 534.2 L852.0 534.2 L852.5 534.2 L853.1 534.2 L853.6 534.2 L854.2 534.2 L854.7 534.2 L855.2 534.2 L855.8 534.2 L856.3 534.2 L856.9 534.2 L857.4 534.2 L858.0 534.2 L858.5 534.2 L859.1 534.2 L859.6 534.2 L860.2 534.2 L860.7 534.2 L861.3 534.2 L861.8 534.2 L862.3 534.2 L862.9 534.2 L863.4 534.2 L864.0 534.2 L864.5 534.2 L865.1 534.2 L865.6 534.2 L866.2 534.2 L866.7 534.2 L867.3 534.2 L867.8 534.2" stroke="#e88080" stroke-width="1.8" fill="none" stroke-dasharray="1.5 1.5"/>
<line x1="881.0" y1="492.3" x2="887.3" y2="492.3" stroke="#e87878" stroke-width="1.3"/>
<text x="889.3" y="493.9" font-size="4.4" fill="#888">PC</text>
<line x1="881.0" y1="498.8" x2="887.3" y2="498.8" stroke="#e87878" stroke-width="1.3" stroke-dasharray="1.5 1.5"/>
<text x="889.3" y="500.4" font-size="4.4" fill="#888">NC</text>
<path d="M820.6 575.0 V634.4 H900.6" stroke="#333" stroke-width="1.5" fill="none"/>
<line x1="818.6" y1="634.4" x2="820.6" y2="634.4" stroke="#333" stroke-width="1"/>
<text x="818.1" y="636.9" font-size="7.2" font-weight="700" fill="#333" text-anchor="end">0.0</text>
<line x1="818.6" y1="623.7" x2="820.6" y2="623.7" stroke="#333" stroke-width="1"/>
<text x="818.1" y="626.2" font-size="7.2" font-weight="700" fill="#333" text-anchor="end">0.2</text>
<line x1="818.6" y1="613.0" x2="820.6" y2="613.0" stroke="#333" stroke-width="1"/>
<text x="818.1" y="615.5" font-size="7.2" font-weight="700" fill="#333" text-anchor="end">0.4</text>
<line x1="818.6" y1="602.4" x2="820.6" y2="602.4" stroke="#333" stroke-width="1"/>
<text x="818.1" y="604.9" font-size="7.2" font-weight="700" fill="#333" text-anchor="end">0.6</text>
<line x1="818.6" y1="591.7" x2="820.6" y2="591.7" stroke="#333" stroke-width="1"/>
<text x="818.1" y="594.2" font-size="7.2" font-weight="700" fill="#333" text-anchor="end">0.8</text>
<line x1="818.6" y1="581.0" x2="820.6" y2="581.0" stroke="#333" stroke-width="1"/>
<text x="818.1" y="583.5" font-size="7.2" font-weight="700" fill="#333" text-anchor="end">1.0</text>
<line x1="820.6" y1="634.4" x2="820.6" y2="636.4" stroke="#333" stroke-width="1"/>
<text x="820.6" y="644.0" font-size="7.2" font-weight="700" fill="#333" text-anchor="middle">0</text>
<line x1="835.1" y1="634.4" x2="835.1" y2="636.4" stroke="#333" stroke-width="1"/>
<text x="835.1" y="644.0" font-size="7.2" font-weight="700" fill="#333" text-anchor="middle">12</text>
<line x1="849.6" y1="634.4" x2="849.6" y2="636.4" stroke="#333" stroke-width="1"/>
<text x="849.6" y="644.0" font-size="7.2" font-weight="700" fill="#333" text-anchor="middle">24</text>
<line x1="864.1" y1="634.4" x2="864.1" y2="636.4" stroke="#333" stroke-width="1"/>
<text x="864.1" y="644.0" font-size="7.2" font-weight="700" fill="#333" text-anchor="middle">36</text>
<line x1="878.6" y1="634.4" x2="878.6" y2="636.4" stroke="#333" stroke-width="1"/>
<text x="878.6" y="644.0" font-size="7.2" font-weight="700" fill="#333" text-anchor="middle">48</text>
<line x1="893.1" y1="634.4" x2="893.1" y2="636.4" stroke="#333" stroke-width="1"/>
<text x="893.1" y="644.0" font-size="7.2" font-weight="700" fill="#333" text-anchor="middle">60</text>
<line x1="827.8" y1="634.4" x2="827.8" y2="635.6" stroke="#333" stroke-width="0.8"/>
<line x1="842.3" y1="634.4" x2="842.3" y2="635.6" stroke="#333" stroke-width="0.8"/>
<line x1="856.8" y1="634.4" x2="856.8" y2="635.6" stroke="#333" stroke-width="0.8"/>
<line x1="871.3" y1="634.4" x2="871.3" y2="635.6" stroke="#333" stroke-width="0.8"/>
<line x1="885.8" y1="634.4" x2="885.8" y2="635.6" stroke="#333" stroke-width="0.8"/>
<text x="860.6" y="653.8" font-size="7.4" font-weight="700" fill="#333" text-anchor="middle">Time (min)</text>
<text transform="translate(806.2 602.5) rotate(-90)" font-size="7" font-weight="700" fill="#333" text-anchor="middle">Fluorescence</text>
<path d="M820.6 634.4 L821.2 634.4 L821.8 634.4 L822.4 634.4 L823.0 634.4 L823.6 634.4 L824.2 634.4 L824.8 634.4 L825.4 634.4 L826.0 634.4 L826.6 634.4 L827.2 634.4 L827.8 634.4 L828.5 634.4 L829.1 634.4 L829.7 634.4 L830.3 630.2 L830.9 622.2 L831.5 615.7 L832.1 609.0 L832.7 600.3 L833.3 594.4 L833.9 591.5 L834.5 589.0 L835.1 587.4 L835.7 586.4 L836.3 585.3 L836.9 584.3 L837.5 583.7 L838.1 583.3 L838.7 582.8 L839.3 582.4 L839.9 582.0 L840.5 581.7 L841.1 581.5 L841.7 581.5 L842.3 581.5 L842.9 581.5 L843.6 581.5 L844.2 581.5 L844.8 581.5 L845.4 581.5 L846.0 581.5 L846.6 581.5 L847.2 581.5 L847.8 581.6 L848.4 581.6 L849.0 581.7 L849.6 581.8 L850.2 581.9 L850.8 582.0 L851.4 582.1 L852.0 582.3 L852.6 582.4 L853.2 582.5 L853.8 582.6 L854.4 582.8 L855.0 582.9 L855.6 583.0 L856.2 583.1 L856.8 583.1 L857.4 583.2 L858.0 583.3 L858.7 583.5 L859.3 583.6 L859.9 583.8 L860.5 584.0 L861.1 584.1 L861.7 584.3 L862.3 584.4 L862.9 584.6 L863.5 584.7 L864.1 584.7 L864.7 584.8 L865.3 584.8 L865.9 584.9 L866.5 585.0 L867.1 585.0 L867.7 585.1 L868.3 585.1 L868.9 585.2 L869.5 585.2 L870.1 585.2 L870.7 585.3 L871.3 585.3 L871.9 585.3 L872.5 585.3 L873.1 585.3 L873.8 585.3 L874.4 585.3 L875.0 585.3 L875.6 585.3 L876.2 585.3 L876.8 585.3 L877.4 585.3 L878.0 585.3 L878.6 585.3 L879.2 585.3 L879.8 585.4 L880.4 585.5 L881.0 585.5 L881.6 585.7 L882.2 585.8 L882.8 585.9 L883.4 586.0 L884.0 586.1 L884.6 586.2 L885.2 586.3 L885.8 586.3 L886.4 586.4 L887.0 586.5 L887.6 586.6 L888.2 586.7 L888.9 586.8 L889.5 586.9 L890.1 587.0 L890.7 587.1 L891.3 587.2 L891.9 587.3 L892.5 587.3 L893.1 587.4" stroke="#e05a5a" stroke-width="1.8" fill="none"/>
<path d="M820.6 634.4 L821.2 634.4 L821.8 634.4 L822.4 634.4 L823.0 634.4 L823.6 634.4 L824.2 634.4 L824.8 634.4 L825.4 634.4 L826.0 634.4 L826.6 634.4 L827.2 634.4 L827.8 634.4 L828.5 634.4 L829.1 634.4 L829.7 634.4 L830.3 633.5 L830.9 627.5 L831.5 619.3 L832.1 613.0 L832.7 606.6 L833.3 598.2 L833.9 592.7 L834.5 590.6 L835.1 588.7 L835.7 587.3 L836.3 586.3 L836.9 585.7 L837.5 584.9 L838.1 584.2 L838.7 583.5 L839.3 582.9 L839.9 582.6 L840.5 582.4 L841.1 582.2 L841.7 582.0 L842.3 581.9 L842.9 581.7 L843.6 581.6 L844.2 581.6 L844.8 581.5 L845.4 581.5 L846.0 581.5 L846.6 581.5 L847.2 581.6 L847.8 581.6 L848.4 581.6 L849.0 581.7 L849.6 581.7 L850.2 581.7 L850.8 581.8 L851.4 581.8 L852.0 581.9 L852.6 581.9 L853.2 582.0 L853.8 582.0 L854.4 582.1 L855.0 582.1 L855.6 582.2 L856.2 582.3 L856.8 582.4 L857.4 582.5 L858.0 582.6 L858.7 582.7 L859.3 582.8 L859.9 583.0 L860.5 583.1 L861.1 583.2 L861.7 583.3 L862.3 583.4 L862.9 583.5 L863.5 583.6 L864.1 583.7 L864.7 583.7 L865.3 583.8 L865.9 583.8 L866.5 583.9 L867.1 584.0 L867.7 584.1 L868.3 584.1 L868.9 584.2 L869.5 584.3 L870.1 584.4 L870.7 584.4 L871.3 584.5 L871.9 584.6 L872.5 584.6 L873.1 584.7 L873.8 584.7 L874.4 584.8 L875.0 584.9 L875.6 585.0 L876.2 585.0 L876.8 585.2 L877.4 585.3 L878.0 585.4 L878.6 585.5 L879.2 585.6 L879.8 585.7 L880.4 585.9 L881.0 586.0 L881.6 586.1 L882.2 586.2 L882.8 586.3 L883.4 586.3 L884.0 586.4 L884.6 586.5 L885.2 586.6 L885.8 586.8 L886.4 586.9 L887.0 587.1 L887.6 587.2 L888.2 587.4 L888.9 587.6 L889.5 587.7 L890.1 587.9 L890.7 588.0 L891.3 588.2 L891.9 588.3 L892.5 588.4 L893.1 588.5" stroke="#e46a6a" stroke-width="1.4" fill="none"/>
<path d="M820.6 634.4 L821.2 634.4 L821.8 634.4 L822.4 634.4 L823.0 634.4 L823.6 634.4 L824.2 634.4 L824.8 634.4 L825.4 634.4 L826.0 634.4 L826.6 634.4 L827.2 634.4 L827.8 634.4 L828.5 634.4 L829.1 634.4 L829.7 634.4 L830.3 634.4 L830.9 634.4 L831.5 631.6 L832.1 624.4 L832.7 618.4 L833.3 612.6 L833.9 605.0 L834.5 599.7 L835.1 595.9 L835.7 591.7 L836.3 589.0 L836.9 587.7 L837.5 586.4 L838.1 585.4 L838.7 584.7 L839.3 584.3 L839.9 583.9 L840.5 583.5 L841.1 583.1 L841.7 582.8 L842.3 582.6 L842.9 582.5 L843.6 582.4 L844.2 582.3 L844.8 582.2 L845.4 582.1 L846.0 582.0 L846.6 581.9 L847.2 581.8 L847.8 581.7 L848.4 581.6 L849.0 581.6 L849.6 581.5 L850.2 581.5 L850.8 581.5 L851.4 581.4 L852.0 581.4 L852.6 581.3 L853.2 581.3 L853.8 581.2 L854.4 581.2 L855.0 581.2 L855.6 581.1 L856.2 581.1 L856.8 581.1 L857.4 581.0 L858.0 581.0 L858.7 581.0 L859.3 581.0 L859.9 581.0 L860.5 581.0 L861.1 581.0 L861.7 581.1 L862.3 581.1 L862.9 581.1 L863.5 581.2 L864.1 581.2 L864.7 581.3 L865.3 581.3 L865.9 581.3 L866.5 581.4 L867.1 581.4 L867.7 581.5 L868.3 581.5 L868.9 581.5 L869.5 581.6 L870.1 581.6 L870.7 581.7 L871.3 581.7 L871.9 581.8 L872.5 581.9 L873.1 582.0 L873.8 582.0 L874.4 582.1 L875.0 582.2 L875.6 582.3 L876.2 582.4 L876.8 582.4 L877.4 582.5 L878.0 582.6 L878.6 582.6 L879.2 582.7 L879.8 582.7 L880.4 582.8 L881.0 582.9 L881.6 583.0 L882.2 583.1 L882.8 583.2 L883.4 583.3 L884.0 583.4 L884.6 583.5 L885.2 583.6 L885.8 583.7 L886.4 583.8 L887.0 584.0 L887.6 584.2 L888.2 584.4 L888.9 584.7 L889.5 584.9 L890.1 585.2 L890.7 585.5 L891.3 585.8 L891.9 586.0 L892.5 586.2 L893.1 586.3" stroke="#38a878" stroke-width="1.8" fill="none"/>
<path d="M820.6 634.4 L821.2 634.4 L821.8 634.4 L822.4 634.4 L823.0 634.4 L823.6 634.4 L824.2 634.4 L824.8 634.4 L825.4 634.4 L826.0 634.4 L826.6 634.4 L827.2 634.4 L827.8 634.4 L828.5 634.4 L829.1 634.4 L829.7 634.4 L830.3 634.4 L830.9 634.4 L831.5 633.7 L832.1 628.4 L832.7 621.2 L833.3 615.7 L833.9 609.8 L834.5 602.2 L835.1 597.0 L835.7 594.3 L836.3 591.4 L836.9 588.9 L837.5 587.4 L838.1 586.6 L838.7 585.8 L839.3 585.1 L839.9 584.5 L840.5 584.0 L841.1 583.7 L841.7 583.5 L842.3 583.3 L842.9 583.1 L843.6 582.9 L844.2 582.7 L844.8 582.5 L845.4 582.4 L846.0 582.2 L846.6 582.1 L847.2 582.1 L847.8 582.0 L848.4 582.0 L849.0 581.9 L849.6 581.9 L850.2 581.8 L850.8 581.8 L851.4 581.7 L852.0 581.7 L852.6 581.7 L853.2 581.6 L853.8 581.6 L854.4 581.6 L855.0 581.6 L855.6 581.5 L856.2 581.5 L856.8 581.5 L857.4 581.5 L858.0 581.5 L858.7 581.6 L859.3 581.6 L859.9 581.6 L860.5 581.6 L861.1 581.6 L861.7 581.7 L862.3 581.7 L862.9 581.7 L863.5 581.8 L864.1 581.8 L864.7 581.8 L865.3 581.9 L865.9 581.9 L866.5 581.9 L867.1 582.0 L867.7 582.0 L868.3 582.0 L868.9 582.1 L869.5 582.1 L870.1 582.2 L870.7 582.2 L871.3 582.3 L871.9 582.4 L872.5 582.5 L873.1 582.6 L873.8 582.7 L874.4 582.9 L875.0 583.0 L875.6 583.0 L876.2 583.1 L876.8 583.2 L877.4 583.4 L878.0 583.5 L878.6 583.7 L879.2 583.9 L879.8 584.1 L880.4 584.3 L881.0 584.5 L881.6 584.7 L882.2 584.9 L882.8 585.1 L883.4 585.3 L884.0 585.5 L884.6 585.8 L885.2 586.1 L885.8 586.6 L886.4 587.0 L887.0 587.4 L887.6 587.7 L888.2 587.9 L888.9 588.2 L889.5 588.5 L890.1 588.9 L890.7 589.3 L891.3 589.7 L891.9 590.0 L892.5 590.4 L893.1 590.6" stroke="#40b080" stroke-width="1.4" fill="none"/>
<line x1="900" y1="594.6" x2="907" y2="594.6" stroke="#e05a5a" stroke-width="1.8"/>
<text x="909" y="597.2" font-size="7.2" fill="#444">0 day</text>
<line x1="900" y1="601" x2="907" y2="601" stroke="#38a878" stroke-width="1.8"/>
<text x="909" y="603.6" font-size="7.2" fill="#444">63 days</text>

<!-- milk can -->
<g stroke="#262626" stroke-width="2" stroke-linejoin="round" fill="none">
<rect x="718.5" y="591" width="14" height="5.6" rx="2.8" transform="rotate(40 725.5 593.8)" fill="#fff"/>
<rect x="771" y="591" width="14" height="5.6" rx="2.8" transform="rotate(-40 778 593.8)" fill="#fff"/>
<path d="M729.8 600.6 V636.5 Q729.8 641.5 734.8 641.5 H768.8 Q773.8 641.5 773.8 636.5 V600.6 Z" fill="#f4b183"/>
<path d="M729.8 600.6 L739.5 589.4 H763.5 L773.8 600.6 Z" fill="#fff"/>
<rect x="733.6" y="576.4" width="36.4" height="8.8" rx="4.4" fill="#fff"/>
<path d="M739.5 585.2 V589.4 M763.5 585.2 V589.4"/>
</g>
<text x="751.6" y="627.3" font-size="15" fill="#222" text-anchor="middle" textLength="20.5" lengthAdjust="spacingAndGlyphs">5 L</text>


<!-- protein -->
<defs>
<clipPath id="pg"><path d="M330.2 448.5 A2.3 2.3 0 0 1 333.8 449.5 A1.7 1.7 0 0 1 336.0 450.8 A1.6 1.6 0 0 1 338.3 451.8 A2.2 2.2 0 0 1 341.8 453.3 A1.4 1.4 0 0 1 343.8 453.7 A2.3 2.3 0 0 1 345.6 457.3 A1.7 1.7 0 0 1 348.4 458.9 A2.8 2.8 0 0 1 350.8 463.2 A1.7 1.7 0 0 1 353.4 464.5 A1.3 1.3 0 0 1 355.7 465.4 A2.3 2.3 0 0 1 359.4 467.3 A1.9 1.9 0 0 1 359.4 470.6 A2.1 2.1 0 0 1 359.7 473.9 A2.1 2.1 0 0 1 360.9 477.5 A1.6 1.6 0 0 1 361.5 480.2 A2.1 2.1 0 0 1 362.0 483.3 A2.0 2.0 0 0 1 360.9 485.9 A2.8 2.8 0 0 1 360.8 490.3 A2.0 2.0 0 0 1 359.5 493.1 A1.9 1.9 0 0 1 357.7 495.6 A1.5 1.5 0 0 1 356.5 498.1 A1.8 1.8 0 0 1 356.0 501.4 A1.6 1.6 0 0 1 355.0 504.2 A2.5 2.5 0 0 1 353.9 507.8 A2.1 2.1 0 0 1 351.2 509.5 A1.9 1.9 0 0 1 349.9 512.0 A1.7 1.7 0 0 1 347.2 513.8 A3.1 3.1 0 0 1 342.9 516.2 A1.3 1.3 0 0 1 341.2 517.6 A2.9 2.9 0 0 1 337.3 519.7 A1.9 1.9 0 0 1 336.1 522.7 A3.0 3.0 0 0 1 332.1 524.3 A1.8 1.8 0 0 1 329.4 526.3 A1.3 1.3 0 0 1 327.4 526.7 A2.3 2.3 0 0 1 323.9 527.3 A2.6 2.6 0 0 1 320.1 528.0 A2.1 2.1 0 0 1 316.9 528.0 A2.0 2.0 0 0 1 313.8 527.9 A2.3 2.3 0 0 1 311.1 525.6 A1.3 1.3 0 0 1 309.6 524.5 A2.5 2.5 0 0 1 305.7 522.6 A2.6 2.6 0 0 1 304.6 518.7 A1.9 1.9 0 0 1 304.7 515.9 A2.3 2.3 0 0 1 302.5 513.3 A2.6 2.6 0 0 1 301.7 509.0 A2.3 2.3 0 0 1 303.0 505.7 A2.6 2.6 0 0 1 302.6 502.0 A1.6 1.6 0 0 1 302.6 499.4 A2.2 2.2 0 0 1 303.2 496.0 A2.2 2.2 0 0 1 303.8 492.4 A2.4 2.4 0 0 1 304.4 488.6 A2.1 2.1 0 0 1 303.5 485.4 A2.7 2.7 0 0 1 302.5 480.4 A2.1 2.1 0 0 1 305.2 478.5 A2.8 2.8 0 0 1 305.6 474.5 A2.0 2.0 0 0 1 307.9 472.7 A2.0 2.0 0 0 1 308.6 469.7 A2.6 2.6 0 0 1 311.2 466.2 A2.3 2.3 0 0 1 312.8 463.1 A1.2 1.2 0 0 1 314.6 462.2 A2.3 2.3 0 0 1 317.2 459.6 A2.1 2.1 0 0 1 319.6 457.5 A2.3 2.3 0 0 1 322.7 454.5 A1.6 1.6 0 0 1 324.6 453.1 A2.0 2.0 0 0 1 327.0 450.1 A2.2 2.2 0 0 1 330.2 448.5Z"/></clipPath>
<clipPath id="pb"><path d="M357.5 467.6 A1.8 1.8 0 0 1 360.6 466.6 A1.5 1.5 0 0 1 363.3 465.9 A2.2 2.2 0 0 1 365.5 463.1 A1.9 1.9 0 0 1 368.4 462.8 A2.8 2.8 0 0 1 372.0 460.6 A3.2 3.2 0 0 1 376.9 460.0 A1.7 1.7 0 0 1 379.2 460.9 A1.7 1.7 0 0 1 382.0 461.1 A1.9 1.9 0 0 1 384.8 461.3 A2.2 2.2 0 0 1 388.7 462.6 A1.8 1.8 0 0 1 391.9 462.3 A1.8 1.8 0 0 1 394.2 464.1 A1.7 1.7 0 0 1 396.3 466.2 A3.0 3.0 0 0 1 400.2 468.7 A2.1 2.1 0 0 1 402.8 470.7 A1.1 1.1 0 0 1 403.8 472.3 A2.4 2.4 0 0 1 405.7 475.3 A2.0 2.0 0 0 1 406.9 478.3 A2.1 2.1 0 0 1 409.2 481.2 A2.4 2.4 0 0 1 408.0 485.1 A1.8 1.8 0 0 1 408.4 487.7 A2.3 2.3 0 0 1 406.3 490.4 A1.9 1.9 0 0 1 406.8 493.7 A2.7 2.7 0 0 1 403.6 496.0 A2.8 2.8 0 0 1 399.9 497.9 A2.1 2.1 0 0 1 396.5 498.3 A1.7 1.7 0 0 1 394.2 499.6 A1.7 1.7 0 0 1 391.8 501.5 A2.5 2.5 0 0 1 388.8 504.3 A2.4 2.4 0 0 1 387.7 508.0 A2.5 2.5 0 0 1 385.8 511.5 A1.8 1.8 0 0 1 385.7 515.0 A1.3 1.3 0 0 1 385.2 516.8 A1.9 1.9 0 0 1 384.5 519.7 A2.2 2.2 0 0 1 383.3 523.2 A1.8 1.8 0 0 1 384.1 525.7 A2.6 2.6 0 0 1 380.9 528.5 A2.0 2.0 0 0 1 379.1 531.3 A2.5 2.5 0 0 1 376.4 534.2 A2.2 2.2 0 0 1 372.3 533.3 A2.2 2.2 0 0 1 369.4 531.2 A1.5 1.5 0 0 1 367.8 529.3 A3.1 3.1 0 0 1 364.8 525.9 A1.7 1.7 0 0 1 363.9 523.6 A2.3 2.3 0 0 1 361.8 520.1 A1.6 1.6 0 0 1 361.4 517.5 A2.0 2.0 0 0 1 360.2 514.0 A2.3 2.3 0 0 1 358.5 510.6 A1.5 1.5 0 0 1 357.4 508.6 A2.3 2.3 0 0 1 356.0 505.5 A2.0 2.0 0 0 1 354.0 502.8 A1.6 1.6 0 0 1 354.0 500.0 A2.1 2.1 0 0 1 352.1 496.7 A2.0 2.0 0 0 1 351.2 493.6 A2.9 2.9 0 0 1 351.6 489.4 A2.0 2.0 0 0 1 349.8 486.2 A1.8 1.8 0 0 1 350.1 483.4 A2.3 2.3 0 0 1 351.5 479.2 A2.0 2.0 0 0 1 353.5 476.3 A1.8 1.8 0 0 1 355.0 473.5 A1.4 1.4 0 0 1 355.7 471.5 A2.5 2.5 0 0 1 357.5 467.6Z"/></clipPath>
<clipPath id="pgr"><path d="M355.8 487.2 A1.7 1.7 0 0 1 358.4 488.9 A1.9 1.9 0 0 1 361.4 490.0 A2.2 2.2 0 0 1 363.3 492.8 A2.5 2.5 0 0 1 365.4 496.6 A2.0 2.0 0 0 1 366.8 499.9 A1.5 1.5 0 0 1 367.8 502.5 A2.3 2.3 0 0 1 368.0 506.2 A1.7 1.7 0 0 1 369.5 509.0 A2.3 2.3 0 0 1 370.6 512.2 A1.8 1.8 0 0 1 371.0 514.9 A2.8 2.8 0 0 1 371.2 519.2 A1.8 1.8 0 0 1 371.9 521.7 A2.7 2.7 0 0 1 371.4 526.0 A2.1 2.1 0 0 1 371.6 529.5 A1.5 1.5 0 0 1 373.1 531.4 A2.6 2.6 0 0 1 369.0 532.1 A2.3 2.3 0 0 1 365.9 530.9 A1.5 1.5 0 0 1 363.7 531.1 A1.9 1.9 0 0 1 360.5 530.4 A2.8 2.8 0 0 1 356.3 530.3 A2.9 2.9 0 0 1 352.2 528.5 A1.6 1.6 0 0 1 349.8 528.7 A2.5 2.5 0 0 1 346.7 526.4 A2.4 2.4 0 0 1 342.8 525.9 A2.5 2.5 0 0 1 339.5 524.3 A3.1 3.1 0 0 1 335.8 521.8 A2.4 2.4 0 0 1 332.4 520.3 A2.1 2.1 0 0 1 334.7 518.0 A2.6 2.6 0 0 1 336.4 514.4 A1.8 1.8 0 0 1 337.5 511.5 A2.1 2.1 0 0 1 340.5 510.3 A2.4 2.4 0 0 1 342.7 506.4 A0.7 0.7 0 0 1 343.3 505.2 A2.3 2.3 0 0 1 345.9 502.4 A2.0 2.0 0 0 1 347.4 498.9 A2.1 2.1 0 0 1 349.4 495.9 A2.6 2.6 0 0 1 351.2 492.2 A2.0 2.0 0 0 1 353.8 490.6 A2.2 2.2 0 0 1 355.8 487.2Z"/></clipPath>
<clipPath id="pr"><path d="M305.7 520.0 A1.9 1.9 0 0 1 308.4 520.4 A2.3 2.3 0 0 1 312.4 520.6 A2.2 2.2 0 0 1 315.8 521.8 A2.8 2.8 0 0 1 320.1 521.2 A2.8 2.8 0 0 1 324.1 521.5 A1.6 1.6 0 0 1 326.7 520.8 A2.5 2.5 0 0 1 331.0 521.2 A1.4 1.4 0 0 1 333.6 521.8 A2.1 2.1 0 0 1 336.4 523.2 A1.6 1.6 0 0 1 339.4 524.0 A2.5 2.5 0 0 1 343.8 525.4 A1.8 1.8 0 0 1 346.3 527.0 A1.9 1.9 0 0 1 349.3 527.8 A2.0 2.0 0 0 1 352.3 528.2 A1.2 1.2 0 0 1 354.3 528.6 A2.6 2.6 0 0 1 358.3 528.4 A1.8 1.8 0 0 1 361.5 529.3 A1.3 1.3 0 0 1 363.7 530.1 A2.1 2.1 0 0 1 366.7 531.5 A1.4 1.4 0 0 1 368.9 532.8 A2.0 2.0 0 0 1 372.4 532.8 A2.2 2.2 0 0 1 375.8 532.9 A1.8 1.8 0 0 1 378.4 533.7 A2.0 2.0 0 0 1 382.0 533.4 A2.1 2.1 0 0 1 382.9 537.2 A2.2 2.2 0 0 1 382.4 540.8 A2.4 2.4 0 0 1 383.0 544.5 A1.8 1.8 0 0 1 382.7 547.6 A1.9 1.9 0 0 1 381.5 550.9 A2.7 2.7 0 0 1 378.7 554.0 A0.8 0.8 0 0 1 378.7 555.3 A2.8 2.8 0 0 1 376.2 558.5 A3.2 3.2 0 0 1 373.0 561.9 A2.3 2.3 0 0 1 370.2 563.8 A2.5 2.5 0 0 1 370.7 567.9 A2.9 2.9 0 0 1 369.3 572.0 A1.8 1.8 0 0 1 369.3 575.2 A2.5 2.5 0 0 1 365.3 576.8 A1.5 1.5 0 0 1 363.1 577.8 A2.8 2.8 0 0 1 359.6 580.0 A2.1 2.1 0 0 1 356.9 581.5 A1.4 1.4 0 0 1 354.5 582.1 A2.3 2.3 0 0 1 350.6 582.9 A1.8 1.8 0 0 1 347.5 583.8 A1.9 1.9 0 0 1 344.4 584.8 A1.9 1.9 0 0 1 341.8 583.1 A2.9 2.9 0 0 1 337.4 580.8 A1.3 1.3 0 0 1 335.2 580.5 A2.6 2.6 0 0 1 331.4 578.5 A2.3 2.3 0 0 1 328.5 576.7 A1.9 1.9 0 0 1 326.7 574.2 A2.0 2.0 0 0 1 324.5 572.1 A2.7 2.7 0 0 1 321.4 569.0 A0.9 0.9 0 0 1 321.2 567.4 A2.9 2.9 0 0 1 319.5 563.4 A2.4 2.4 0 0 1 316.7 561.1 A1.3 1.3 0 0 1 315.8 559.1 A1.8 1.8 0 0 1 313.8 556.3 A2.3 2.3 0 0 1 312.3 552.8 A1.3 1.3 0 0 1 311.9 550.7 A2.1 2.1 0 0 1 310.4 547.6 A2.4 2.4 0 0 1 308.7 544.5 A1.8 1.8 0 0 1 307.3 542.1 A2.9 2.9 0 0 1 306.9 537.8 A1.7 1.7 0 0 1 304.6 535.7 A2.1 2.1 0 0 1 304.2 532.3 A2.4 2.4 0 0 1 303.8 528.7 A1.3 1.3 0 0 1 304.1 526.3 A1.8 1.8 0 0 1 304.5 523.0 A2.1 2.1 0 0 1 305.7 520.0Z"/></clipPath>
</defs>
<g clip-path="url(#pg)">
<rect x="299.2" y="445.4" width="65.8" height="85.6" fill="#c6c6c6"/>
<circle cx="357.6" cy="453.5" r="1.9" fill="#8a8a8a" opacity="0.60"/>
<circle cx="306.4" cy="514.6" r="1.6" fill="#8a8a8a" opacity="0.60"/>
<circle cx="331.4" cy="522.3" r="1.5" fill="#a0a0a0" opacity="0.60"/>
<circle cx="325.4" cy="474.6" r="2.4" fill="#8a8a8a" opacity="0.60"/>
<circle cx="331.7" cy="491.3" r="2.0" fill="#ffffff" opacity="0.60"/>
<circle cx="358.6" cy="480.7" r="2.2" fill="#ececec" opacity="0.60"/>
<circle cx="354.7" cy="513.8" r="2.2" fill="#a0a0a0" opacity="0.60"/>
<circle cx="361.3" cy="499.9" r="1.7" fill="#f4f4f4" opacity="0.60"/>
<circle cx="351.4" cy="481.6" r="1.6" fill="#8a8a8a" opacity="0.60"/>
<circle cx="315.9" cy="460.0" r="1.9" fill="#8a8a8a" opacity="0.60"/>
<circle cx="320.7" cy="478.9" r="1.7" fill="#ececec" opacity="0.60"/>
<circle cx="362.1" cy="451.3" r="1.4" fill="#f4f4f4" opacity="0.60"/>
<circle cx="319.6" cy="459.4" r="2.3" fill="#f4f4f4" opacity="0.60"/>
<circle cx="348.3" cy="447.8" r="1.7" fill="#f4f4f4" opacity="0.60"/>
<circle cx="320.1" cy="462.9" r="1.5" fill="#ffffff" opacity="0.60"/>
<circle cx="315.2" cy="506.4" r="1.8" fill="#8a8a8a" opacity="0.60"/>
<circle cx="328.4" cy="521.2" r="1.6" fill="#ececec" opacity="0.60"/>
<circle cx="340.2" cy="525.2" r="1.8" fill="#ececec" opacity="0.60"/>
<circle cx="331.1" cy="480.1" r="2.3" fill="#ffffff" opacity="0.60"/>
<circle cx="349.4" cy="454.1" r="2.2" fill="#a0a0a0" opacity="0.60"/>
<circle cx="303.4" cy="525.6" r="2.1" fill="#a0a0a0" opacity="0.60"/>
<circle cx="362.5" cy="512.8" r="2.1" fill="#f4f4f4" opacity="0.60"/>
<circle cx="342.2" cy="466.3" r="1.0" fill="#a0a0a0" opacity="0.60"/>
<circle cx="358.0" cy="484.0" r="1.3" fill="#a0a0a0" opacity="0.60"/>
<circle cx="338.9" cy="459.5" r="1.2" fill="#ececec" opacity="0.60"/>
<circle cx="309.4" cy="522.3" r="2.1" fill="#8a8a8a" opacity="0.60"/>
<circle cx="340.8" cy="529.4" r="1.4" fill="#ffffff" opacity="0.60"/>
<circle cx="303.6" cy="494.2" r="1.2" fill="#8a8a8a" opacity="0.60"/>
<circle cx="352.6" cy="517.1" r="2.2" fill="#f4f4f4" opacity="0.60"/>
<circle cx="322.6" cy="497.8" r="1.7" fill="#a0a0a0" opacity="0.60"/>
<circle cx="344.5" cy="453.3" r="2.0" fill="#ffffff" opacity="0.60"/>
<circle cx="354.9" cy="471.8" r="2.1" fill="#a0a0a0" opacity="0.60"/>
<circle cx="312.5" cy="503.4" r="2.1" fill="#a0a0a0" opacity="0.60"/>
<circle cx="313.5" cy="491.8" r="1.7" fill="#8a8a8a" opacity="0.60"/>
<circle cx="360.6" cy="527.0" r="1.4" fill="#a0a0a0" opacity="0.60"/>
<circle cx="305.1" cy="472.0" r="1.7" fill="#f4f4f4" opacity="0.60"/>
<circle cx="323.1" cy="503.8" r="1.1" fill="#a0a0a0" opacity="0.60"/>
<circle cx="343.3" cy="508.8" r="2.1" fill="#f4f4f4" opacity="0.60"/>
<circle cx="341.9" cy="447.4" r="1.5" fill="#a0a0a0" opacity="0.60"/>
<circle cx="315.4" cy="493.6" r="1.6" fill="#f4f4f4" opacity="0.60"/>
<circle cx="354.8" cy="517.0" r="2.0" fill="#ffffff" opacity="0.60"/>
<circle cx="309.9" cy="498.9" r="2.3" fill="#ececec" opacity="0.60"/>
<circle cx="361.1" cy="509.5" r="1.8" fill="#f4f4f4" opacity="0.60"/>
<circle cx="316.6" cy="463.1" r="2.0" fill="#ececec" opacity="0.60"/>
<circle cx="320.0" cy="469.3" r="1.7" fill="#ececec" opacity="0.60"/>
<circle cx="328.7" cy="478.4" r="1.1" fill="#ffffff" opacity="0.60"/>
<circle cx="306.2" cy="503.1" r="2.0" fill="#8a8a8a" opacity="0.60"/>
<circle cx="312.5" cy="449.4" r="1.6" fill="#f4f4f4" opacity="0.60"/>
<circle cx="306.6" cy="449.1" r="2.4" fill="#a0a0a0" opacity="0.60"/>
<circle cx="326.2" cy="452.5" r="2.3" fill="#a0a0a0" opacity="0.60"/>
<circle cx="359.3" cy="458.0" r="1.3" fill="#8a8a8a" opacity="0.60"/>
<circle cx="352.6" cy="478.7" r="1.5" fill="#a0a0a0" opacity="0.60"/>
<circle cx="339.9" cy="507.2" r="1.9" fill="#ececec" opacity="0.60"/>
<circle cx="362.8" cy="512.4" r="1.9" fill="#ffffff" opacity="0.60"/>
<circle cx="334.0" cy="468.2" r="1.3" fill="#ececec" opacity="0.60"/>
<circle cx="341.7" cy="455.3" r="1.5" fill="#ffffff" opacity="0.60"/>
<circle cx="321.4" cy="470.9" r="1.1" fill="#8a8a8a" opacity="0.60"/>
<circle cx="316.4" cy="491.4" r="1.4" fill="#8a8a8a" opacity="0.60"/>
<circle cx="322.7" cy="488.2" r="1.2" fill="#8a8a8a" opacity="0.60"/>
<circle cx="363.2" cy="489.5" r="2.0" fill="#8a8a8a" opacity="0.60"/>
<circle cx="336.4" cy="448.6" r="1.9" fill="#f4f4f4" opacity="0.60"/>
<circle cx="308.9" cy="486.4" r="1.6" fill="#ececec" opacity="0.60"/>
<circle cx="321.2" cy="524.1" r="1.5" fill="#a0a0a0" opacity="0.60"/>
<circle cx="356.5" cy="484.2" r="2.0" fill="#8a8a8a" opacity="0.60"/>
<circle cx="357.9" cy="491.8" r="1.8" fill="#ffffff" opacity="0.60"/>
<circle cx="358.6" cy="460.5" r="2.0" fill="#ececec" opacity="0.60"/>
<circle cx="338.6" cy="456.7" r="2.2" fill="#ececec" opacity="0.60"/>
<circle cx="343.9" cy="476.8" r="2.1" fill="#ececec" opacity="0.60"/>
<circle cx="353.2" cy="461.9" r="1.8" fill="#f4f4f4" opacity="0.60"/>
<circle cx="329.2" cy="480.1" r="2.1" fill="#8a8a8a" opacity="0.60"/>
<circle cx="319.8" cy="502.5" r="2.0" fill="#a0a0a0" opacity="0.60"/>
<circle cx="339.5" cy="499.9" r="2.1" fill="#8a8a8a" opacity="0.60"/>
<circle cx="312.9" cy="485.5" r="1.2" fill="#a0a0a0" opacity="0.60"/>
<circle cx="307.7" cy="480.3" r="1.5" fill="#8a8a8a" opacity="0.60"/>
<circle cx="317.0" cy="493.9" r="1.5" fill="#f4f4f4" opacity="0.60"/>
<circle cx="346.2" cy="512.2" r="1.6" fill="#a0a0a0" opacity="0.60"/>
<circle cx="338.5" cy="485.7" r="1.6" fill="#ffffff" opacity="0.60"/>
<circle cx="358.5" cy="493.6" r="1.6" fill="#ececec" opacity="0.60"/>
<circle cx="331.2" cy="529.5" r="2.2" fill="#a0a0a0" opacity="0.60"/>
<circle cx="352.8" cy="456.2" r="1.2" fill="#ffffff" opacity="0.60"/>
<circle cx="321.3" cy="489.9" r="1.6" fill="#f4f4f4" opacity="0.60"/>
<circle cx="320.7" cy="451.0" r="2.0" fill="#a0a0a0" opacity="0.60"/>
<circle cx="346.9" cy="496.4" r="2.1" fill="#ececec" opacity="0.60"/>
<circle cx="356.5" cy="519.7" r="1.3" fill="#a0a0a0" opacity="0.60"/>
<circle cx="315.7" cy="519.4" r="2.4" fill="#a0a0a0" opacity="0.60"/>
<circle cx="344.5" cy="490.4" r="1.3" fill="#ececec" opacity="0.60"/>
<circle cx="342.1" cy="525.0" r="2.2" fill="#ececec" opacity="0.60"/>
<circle cx="355.5" cy="481.6" r="2.1" fill="#8a8a8a" opacity="0.60"/>
<circle cx="341.6" cy="481.6" r="1.2" fill="#f4f4f4" opacity="0.60"/>
<circle cx="306.5" cy="512.6" r="1.2" fill="#ffffff" opacity="0.60"/>
<circle cx="336.9" cy="484.3" r="1.4" fill="#ececec" opacity="0.60"/>
<circle cx="301.7" cy="460.8" r="1.6" fill="#a0a0a0" opacity="0.60"/>
<circle cx="352.2" cy="479.6" r="1.5" fill="#ffffff" opacity="0.60"/>
<circle cx="314.9" cy="472.0" r="1.6" fill="#ececec" opacity="0.60"/>
<circle cx="319.8" cy="488.1" r="2.3" fill="#a0a0a0" opacity="0.60"/>
<circle cx="356.3" cy="463.3" r="2.2" fill="#f4f4f4" opacity="0.60"/>
<circle cx="312.7" cy="516.4" r="1.5" fill="#a0a0a0" opacity="0.60"/>
<circle cx="301.2" cy="499.5" r="2.0" fill="#ffffff" opacity="0.60"/>
<circle cx="313.1" cy="499.3" r="1.3" fill="#f4f4f4" opacity="0.60"/>
<circle cx="341.7" cy="472.0" r="2.1" fill="#ececec" opacity="0.60"/>
<circle cx="355.7" cy="506.0" r="1.2" fill="#a0a0a0" opacity="0.60"/>
<circle cx="326.7" cy="460.6" r="2.2" fill="#f4f4f4" opacity="0.60"/>
<circle cx="345.5" cy="462.8" r="1.3" fill="#8a8a8a" opacity="0.60"/>
<circle cx="332.2" cy="471.1" r="1.4" fill="#ffffff" opacity="0.60"/>
<circle cx="356.6" cy="495.7" r="1.3" fill="#ececec" opacity="0.60"/>
<circle cx="357.3" cy="461.5" r="1.3" fill="#8a8a8a" opacity="0.60"/>
<circle cx="341.0" cy="453.9" r="2.4" fill="#a0a0a0" opacity="0.60"/>
<circle cx="358.7" cy="452.6" r="2.3" fill="#f4f4f4" opacity="0.60"/>
<circle cx="338.5" cy="470.2" r="1.4" fill="#ffffff" opacity="0.60"/>
<circle cx="305.8" cy="470.2" r="2.1" fill="#8a8a8a" opacity="0.60"/>
<circle cx="311.6" cy="507.8" r="1.0" fill="#8a8a8a" opacity="0.60"/>
<circle cx="363.2" cy="449.2" r="1.6" fill="#ffffff" opacity="0.60"/>
<circle cx="324.7" cy="524.1" r="1.7" fill="#8a8a8a" opacity="0.60"/>
<circle cx="304.3" cy="511.3" r="2.3" fill="#ececec" opacity="0.60"/>
<circle cx="342.2" cy="511.9" r="1.7" fill="#ffffff" opacity="0.60"/>
<circle cx="353.0" cy="499.5" r="2.4" fill="#ffffff" opacity="0.60"/>
<circle cx="311.3" cy="511.6" r="1.2" fill="#ffffff" opacity="0.60"/>
<circle cx="328.0" cy="502.3" r="1.8" fill="#ececec" opacity="0.60"/>
<circle cx="350.4" cy="512.5" r="1.3" fill="#a0a0a0" opacity="0.60"/>
<circle cx="334.9" cy="517.7" r="1.8" fill="#ececec" opacity="0.60"/>
<circle cx="302.5" cy="496.3" r="2.0" fill="#ffffff" opacity="0.60"/>
<circle cx="328.8" cy="520.0" r="1.5" fill="#ffffff" opacity="0.60"/>
<circle cx="301.3" cy="487.9" r="1.6" fill="#a0a0a0" opacity="0.60"/>
<circle cx="346.3" cy="518.0" r="1.0" fill="#f4f4f4" opacity="0.60"/>
<circle cx="358.1" cy="494.0" r="1.8" fill="#8a8a8a" opacity="0.60"/>
<circle cx="340.0" cy="450.9" r="1.6" fill="#ececec" opacity="0.60"/>
<circle cx="352.5" cy="508.1" r="2.1" fill="#ffffff" opacity="0.60"/>
<circle cx="332.0" cy="500.7" r="1.7" fill="#a0a0a0" opacity="0.60"/>
<circle cx="316.5" cy="459.8" r="2.0" fill="#ffffff" opacity="0.60"/>
<circle cx="350.4" cy="451.5" r="1.6" fill="#ececec" opacity="0.60"/>
<circle cx="344.8" cy="505.2" r="2.3" fill="#8a8a8a" opacity="0.60"/>
<circle cx="331.4" cy="510.0" r="2.4" fill="#8a8a8a" opacity="0.60"/>
<circle cx="347.7" cy="490.0" r="2.4" fill="#f4f4f4" opacity="0.60"/>
<circle cx="315.6" cy="520.8" r="1.2" fill="#a0a0a0" opacity="0.60"/>
<circle cx="335.7" cy="485.9" r="2.3" fill="#f4f4f4" opacity="0.60"/>
<circle cx="343.6" cy="506.3" r="2.4" fill="#ffffff" opacity="0.60"/>
<circle cx="314.9" cy="467.6" r="1.8" fill="#8a8a8a" opacity="0.60"/>
<circle cx="326.9" cy="453.6" r="1.3" fill="#ececec" opacity="0.60"/>
<circle cx="321.7" cy="528.4" r="1.9" fill="#f4f4f4" opacity="0.60"/>
<circle cx="310.4" cy="495.3" r="2.4" fill="#ececec" opacity="0.60"/>
<circle cx="336.4" cy="522.6" r="2.2" fill="#8a8a8a" opacity="0.60"/>
<circle cx="329.7" cy="479.2" r="2.2" fill="#a0a0a0" opacity="0.60"/>
<circle cx="324.4" cy="450.5" r="1.6" fill="#8a8a8a" opacity="0.60"/>
<circle cx="311.9" cy="492.3" r="1.2" fill="#8a8a8a" opacity="0.60"/>
<circle cx="325.7" cy="496.0" r="2.1" fill="#a0a0a0" opacity="0.60"/>
<circle cx="328.7" cy="529.4" r="2.0" fill="#a0a0a0" opacity="0.60"/>
<circle cx="313.3" cy="478.4" r="1.1" fill="#ececec" opacity="0.60"/>
<circle cx="323.3" cy="469.3" r="1.0" fill="#8a8a8a" opacity="0.60"/>
<circle cx="347.5" cy="489.2" r="1.8" fill="#8a8a8a" opacity="0.60"/>
<circle cx="317.3" cy="476.6" r="1.2" fill="#ececec" opacity="0.60"/>
<circle cx="308.9" cy="466.5" r="2.2" fill="#f4f4f4" opacity="0.60"/>
<circle cx="301.5" cy="473.3" r="1.5" fill="#f4f4f4" opacity="0.60"/>
<circle cx="354.7" cy="478.3" r="1.4" fill="#ffffff" opacity="0.60"/>
<circle cx="342.9" cy="471.7" r="1.9" fill="#a0a0a0" opacity="0.60"/>
<circle cx="302.8" cy="459.0" r="1.8" fill="#f4f4f4" opacity="0.60"/>
<circle cx="313.5" cy="480.7" r="1.7" fill="#8a8a8a" opacity="0.60"/>
<circle cx="333.2" cy="492.2" r="1.4" fill="#a0a0a0" opacity="0.60"/>
<circle cx="342.7" cy="458.7" r="1.3" fill="#ececec" opacity="0.60"/>
<circle cx="334.3" cy="484.0" r="1.2" fill="#ffffff" opacity="0.60"/>
<circle cx="355.4" cy="465.3" r="1.4" fill="#ececec" opacity="0.60"/>
</g>
<g clip-path="url(#pb)">
<rect x="347.0" y="456.7" width="65.0" height="80.1" fill="#2e6ab2"/>
<circle cx="386.5" cy="468.7" r="2.4" fill="#1e5698" opacity="0.55"/>
<circle cx="383.7" cy="520.8" r="2.6" fill="#70b0f0" opacity="0.55"/>
<circle cx="389.6" cy="462.9" r="2.4" fill="#70b0f0" opacity="0.55"/>
<circle cx="390.0" cy="532.2" r="2.4" fill="#184684" opacity="0.55"/>
<circle cx="397.3" cy="478.0" r="2.3" fill="#64a4ea" opacity="0.55"/>
<circle cx="372.7" cy="462.4" r="1.6" fill="#70b0f0" opacity="0.55"/>
<circle cx="365.9" cy="512.6" r="1.4" fill="#1e5698" opacity="0.55"/>
<circle cx="360.7" cy="517.7" r="1.6" fill="#184684" opacity="0.55"/>
<circle cx="380.8" cy="515.7" r="2.5" fill="#184684" opacity="0.55"/>
<circle cx="378.1" cy="477.8" r="2.4" fill="#70b0f0" opacity="0.55"/>
<circle cx="392.1" cy="459.5" r="1.6" fill="#70b0f0" opacity="0.55"/>
<circle cx="405.3" cy="528.9" r="1.4" fill="#1e5698" opacity="0.55"/>
<circle cx="379.2" cy="503.4" r="1.8" fill="#70b0f0" opacity="0.55"/>
<circle cx="403.8" cy="463.3" r="1.1" fill="#70b0f0" opacity="0.55"/>
<circle cx="404.2" cy="501.9" r="1.4" fill="#184684" opacity="0.55"/>
<circle cx="388.5" cy="487.7" r="1.5" fill="#70b0f0" opacity="0.55"/>
<circle cx="350.0" cy="512.9" r="1.3" fill="#64a4ea" opacity="0.55"/>
<circle cx="387.5" cy="506.2" r="1.7" fill="#1e5698" opacity="0.55"/>
<circle cx="352.0" cy="463.0" r="1.7" fill="#1e5698" opacity="0.55"/>
<circle cx="372.1" cy="528.7" r="1.1" fill="#184684" opacity="0.55"/>
<circle cx="391.1" cy="479.0" r="1.8" fill="#1e5698" opacity="0.55"/>
<circle cx="409.5" cy="469.4" r="1.3" fill="#184684" opacity="0.55"/>
<circle cx="364.3" cy="474.9" r="1.8" fill="#1e5698" opacity="0.55"/>
<circle cx="348.2" cy="500.4" r="2.4" fill="#64a4ea" opacity="0.55"/>
<circle cx="387.3" cy="501.5" r="2.3" fill="#70b0f0" opacity="0.55"/>
<circle cx="364.6" cy="465.8" r="1.0" fill="#184684" opacity="0.55"/>
<circle cx="391.8" cy="511.3" r="2.5" fill="#184684" opacity="0.55"/>
<circle cx="358.0" cy="506.2" r="1.8" fill="#70b0f0" opacity="0.55"/>
<circle cx="371.3" cy="480.0" r="2.2" fill="#1e5698" opacity="0.55"/>
<circle cx="362.9" cy="477.2" r="1.5" fill="#184684" opacity="0.55"/>
<circle cx="405.8" cy="515.3" r="2.4" fill="#64a4ea" opacity="0.55"/>
<circle cx="399.5" cy="526.8" r="1.5" fill="#1e5698" opacity="0.55"/>
<circle cx="380.3" cy="510.7" r="1.1" fill="#1e5698" opacity="0.55"/>
<circle cx="402.8" cy="461.9" r="1.4" fill="#1e5698" opacity="0.55"/>
<circle cx="363.9" cy="507.2" r="1.6" fill="#70b0f0" opacity="0.55"/>
<circle cx="359.6" cy="524.5" r="1.3" fill="#184684" opacity="0.55"/>
<circle cx="383.8" cy="490.5" r="2.1" fill="#70b0f0" opacity="0.55"/>
<circle cx="398.5" cy="467.5" r="1.6" fill="#70b0f0" opacity="0.55"/>
<circle cx="362.6" cy="472.1" r="1.0" fill="#184684" opacity="0.55"/>
<circle cx="364.9" cy="478.9" r="1.4" fill="#1e5698" opacity="0.55"/>
<circle cx="372.4" cy="510.7" r="1.2" fill="#184684" opacity="0.55"/>
<circle cx="392.9" cy="466.9" r="1.1" fill="#70b0f0" opacity="0.55"/>
<circle cx="370.5" cy="499.7" r="2.3" fill="#1e5698" opacity="0.55"/>
<circle cx="368.8" cy="459.8" r="1.9" fill="#1e5698" opacity="0.55"/>
<circle cx="358.8" cy="463.0" r="1.7" fill="#70b0f0" opacity="0.55"/>
<circle cx="362.1" cy="514.0" r="1.7" fill="#184684" opacity="0.55"/>
<circle cx="409.8" cy="488.1" r="2.1" fill="#70b0f0" opacity="0.55"/>
<circle cx="398.4" cy="469.2" r="1.3" fill="#64a4ea" opacity="0.55"/>
<circle cx="383.0" cy="527.7" r="2.4" fill="#1e5698" opacity="0.55"/>
<circle cx="355.6" cy="483.0" r="1.0" fill="#184684" opacity="0.55"/>
<circle cx="365.2" cy="488.9" r="1.5" fill="#64a4ea" opacity="0.55"/>
<circle cx="378.4" cy="486.3" r="1.4" fill="#64a4ea" opacity="0.55"/>
<circle cx="357.6" cy="458.3" r="2.2" fill="#64a4ea" opacity="0.55"/>
<circle cx="348.3" cy="483.9" r="1.2" fill="#184684" opacity="0.55"/>
<circle cx="410.5" cy="489.6" r="1.1" fill="#70b0f0" opacity="0.55"/>
<circle cx="398.8" cy="488.6" r="1.1" fill="#70b0f0" opacity="0.55"/>
<circle cx="365.5" cy="531.0" r="2.4" fill="#1e5698" opacity="0.55"/>
<circle cx="384.0" cy="531.1" r="1.1" fill="#64a4ea" opacity="0.55"/>
<circle cx="407.5" cy="499.8" r="2.1" fill="#70b0f0" opacity="0.55"/>
<circle cx="370.6" cy="516.5" r="1.5" fill="#1e5698" opacity="0.55"/>
<circle cx="348.7" cy="474.1" r="2.5" fill="#64a4ea" opacity="0.55"/>
<circle cx="396.3" cy="478.4" r="1.4" fill="#1e5698" opacity="0.55"/>
<circle cx="373.2" cy="520.4" r="2.3" fill="#64a4ea" opacity="0.55"/>
<circle cx="407.0" cy="495.3" r="2.3" fill="#1e5698" opacity="0.55"/>
<circle cx="363.8" cy="528.7" r="1.0" fill="#184684" opacity="0.55"/>
<circle cx="362.3" cy="488.0" r="1.6" fill="#70b0f0" opacity="0.55"/>
<circle cx="399.1" cy="486.2" r="2.0" fill="#70b0f0" opacity="0.55"/>
<circle cx="367.7" cy="462.9" r="2.0" fill="#64a4ea" opacity="0.55"/>
<circle cx="364.7" cy="474.4" r="1.3" fill="#64a4ea" opacity="0.55"/>
<circle cx="394.8" cy="500.3" r="2.1" fill="#184684" opacity="0.55"/>
<circle cx="369.9" cy="469.8" r="1.6" fill="#184684" opacity="0.55"/>
<circle cx="375.1" cy="458.4" r="1.8" fill="#1e5698" opacity="0.55"/>
<circle cx="354.0" cy="531.9" r="2.3" fill="#184684" opacity="0.55"/>
<circle cx="349.3" cy="471.3" r="1.1" fill="#64a4ea" opacity="0.55"/>
<circle cx="384.5" cy="482.8" r="1.8" fill="#184684" opacity="0.55"/>
<circle cx="379.5" cy="518.6" r="2.4" fill="#70b0f0" opacity="0.55"/>
<circle cx="352.4" cy="488.1" r="2.5" fill="#184684" opacity="0.55"/>
<circle cx="397.0" cy="498.7" r="1.0" fill="#1e5698" opacity="0.55"/>
<circle cx="405.4" cy="462.0" r="2.0" fill="#70b0f0" opacity="0.55"/>
<circle cx="403.9" cy="524.5" r="2.0" fill="#64a4ea" opacity="0.55"/>
<circle cx="355.6" cy="515.4" r="2.2" fill="#1e5698" opacity="0.55"/>
<circle cx="389.9" cy="490.4" r="1.6" fill="#184684" opacity="0.55"/>
<circle cx="371.7" cy="499.9" r="1.1" fill="#64a4ea" opacity="0.55"/>
<circle cx="381.3" cy="493.0" r="1.5" fill="#64a4ea" opacity="0.55"/>
<circle cx="385.5" cy="530.4" r="1.2" fill="#1e5698" opacity="0.55"/>
<circle cx="368.7" cy="477.7" r="2.0" fill="#184684" opacity="0.55"/>
<circle cx="394.4" cy="534.9" r="1.6" fill="#184684" opacity="0.55"/>
<circle cx="395.4" cy="527.7" r="1.2" fill="#184684" opacity="0.55"/>
<circle cx="400.9" cy="508.4" r="2.5" fill="#64a4ea" opacity="0.55"/>
<circle cx="398.3" cy="497.6" r="2.6" fill="#64a4ea" opacity="0.55"/>
<circle cx="359.6" cy="460.7" r="1.5" fill="#70b0f0" opacity="0.55"/>
<circle cx="376.6" cy="499.6" r="2.4" fill="#184684" opacity="0.55"/>
<circle cx="378.8" cy="532.8" r="1.4" fill="#64a4ea" opacity="0.55"/>
<circle cx="383.0" cy="519.1" r="1.8" fill="#184684" opacity="0.55"/>
<circle cx="352.5" cy="496.5" r="1.1" fill="#64a4ea" opacity="0.55"/>
<circle cx="398.2" cy="469.5" r="1.6" fill="#64a4ea" opacity="0.55"/>
<circle cx="369.0" cy="530.2" r="2.5" fill="#184684" opacity="0.55"/>
<circle cx="400.5" cy="466.9" r="1.3" fill="#1e5698" opacity="0.55"/>
<circle cx="350.0" cy="510.9" r="1.7" fill="#1e5698" opacity="0.55"/>
<circle cx="352.5" cy="534.8" r="1.3" fill="#70b0f0" opacity="0.55"/>
<circle cx="403.2" cy="514.5" r="1.3" fill="#1e5698" opacity="0.55"/>
<circle cx="371.8" cy="521.4" r="2.1" fill="#70b0f0" opacity="0.55"/>
<circle cx="389.5" cy="474.0" r="1.3" fill="#184684" opacity="0.55"/>
<circle cx="358.8" cy="503.0" r="1.1" fill="#70b0f0" opacity="0.55"/>
<circle cx="355.3" cy="531.1" r="2.0" fill="#70b0f0" opacity="0.55"/>
<circle cx="367.4" cy="458.3" r="1.1" fill="#184684" opacity="0.55"/>
<circle cx="394.4" cy="485.8" r="1.5" fill="#1e5698" opacity="0.55"/>
<circle cx="360.6" cy="463.3" r="1.4" fill="#70b0f0" opacity="0.55"/>
<circle cx="399.7" cy="489.6" r="1.7" fill="#64a4ea" opacity="0.55"/>
<circle cx="407.3" cy="484.7" r="2.1" fill="#184684" opacity="0.55"/>
<circle cx="379.0" cy="466.9" r="1.2" fill="#70b0f0" opacity="0.55"/>
<circle cx="408.0" cy="463.8" r="2.0" fill="#184684" opacity="0.55"/>
<circle cx="406.8" cy="488.0" r="2.2" fill="#184684" opacity="0.55"/>
<circle cx="376.2" cy="462.7" r="1.7" fill="#70b0f0" opacity="0.55"/>
<circle cx="384.8" cy="509.1" r="1.4" fill="#64a4ea" opacity="0.55"/>
<circle cx="390.3" cy="476.8" r="1.7" fill="#184684" opacity="0.55"/>
<circle cx="385.4" cy="525.3" r="1.6" fill="#70b0f0" opacity="0.55"/>
<circle cx="369.5" cy="521.7" r="2.4" fill="#64a4ea" opacity="0.55"/>
<circle cx="382.4" cy="465.5" r="2.4" fill="#64a4ea" opacity="0.55"/>
<circle cx="397.8" cy="459.0" r="1.0" fill="#70b0f0" opacity="0.55"/>
<circle cx="410.4" cy="521.4" r="2.4" fill="#184684" opacity="0.55"/>
<circle cx="377.6" cy="485.9" r="1.7" fill="#70b0f0" opacity="0.55"/>
<circle cx="378.2" cy="508.6" r="1.1" fill="#184684" opacity="0.55"/>
<circle cx="409.5" cy="535.2" r="1.6" fill="#184684" opacity="0.55"/>
<circle cx="388.9" cy="512.4" r="2.6" fill="#64a4ea" opacity="0.55"/>
<circle cx="411.0" cy="508.9" r="2.3" fill="#184684" opacity="0.55"/>
<circle cx="380.6" cy="503.3" r="1.8" fill="#184684" opacity="0.55"/>
<circle cx="380.5" cy="465.2" r="2.3" fill="#64a4ea" opacity="0.55"/>
<circle cx="358.5" cy="508.4" r="2.0" fill="#70b0f0" opacity="0.55"/>
<circle cx="389.8" cy="533.4" r="1.8" fill="#64a4ea" opacity="0.55"/>
<circle cx="375.3" cy="469.9" r="1.6" fill="#70b0f0" opacity="0.55"/>
<circle cx="407.5" cy="527.6" r="1.0" fill="#70b0f0" opacity="0.55"/>
<circle cx="374.0" cy="501.5" r="2.6" fill="#64a4ea" opacity="0.55"/>
<circle cx="367.0" cy="497.3" r="1.2" fill="#184684" opacity="0.55"/>
<circle cx="356.2" cy="464.6" r="1.8" fill="#70b0f0" opacity="0.55"/>
<circle cx="370.2" cy="476.9" r="1.9" fill="#1e5698" opacity="0.55"/>
<circle cx="351.4" cy="474.7" r="1.7" fill="#64a4ea" opacity="0.55"/>
<circle cx="376.9" cy="524.1" r="1.2" fill="#184684" opacity="0.55"/>
<circle cx="357.1" cy="501.7" r="1.3" fill="#64a4ea" opacity="0.55"/>
<circle cx="374.0" cy="458.5" r="1.2" fill="#64a4ea" opacity="0.55"/>
<circle cx="394.3" cy="513.3" r="1.3" fill="#64a4ea" opacity="0.55"/>
<circle cx="373.5" cy="496.2" r="2.5" fill="#64a4ea" opacity="0.55"/>
<circle cx="372.6" cy="481.1" r="1.3" fill="#64a4ea" opacity="0.55"/>
<circle cx="389.4" cy="490.4" r="2.4" fill="#184684" opacity="0.55"/>
<circle cx="389.2" cy="526.9" r="2.5" fill="#64a4ea" opacity="0.55"/>
<circle cx="372.9" cy="481.1" r="2.2" fill="#70b0f0" opacity="0.55"/>
<circle cx="361.9" cy="464.3" r="2.3" fill="#1e5698" opacity="0.55"/>
<circle cx="370.6" cy="491.3" r="1.7" fill="#64a4ea" opacity="0.55"/>
<circle cx="367.6" cy="499.2" r="1.3" fill="#1e5698" opacity="0.55"/>
<circle cx="382.5" cy="488.9" r="1.4" fill="#64a4ea" opacity="0.55"/>
</g>
<g clip-path="url(#pr)">
<rect x="301.0" y="516.7" width="85.8" height="70.3" fill="#e01010"/>
<circle cx="361.7" cy="519.9" r="1.6" fill="#a00606" opacity="0.50"/>
<circle cx="345.5" cy="553.7" r="2.2" fill="#ff6060" opacity="0.50"/>
<circle cx="336.1" cy="583.7" r="1.0" fill="#ff6060" opacity="0.50"/>
<circle cx="382.5" cy="542.7" r="2.0" fill="#ff6060" opacity="0.50"/>
<circle cx="372.4" cy="532.0" r="2.2" fill="#ff5050" opacity="0.50"/>
<circle cx="328.4" cy="551.7" r="1.8" fill="#ff6060" opacity="0.50"/>
<circle cx="306.4" cy="524.0" r="1.4" fill="#ff6060" opacity="0.50"/>
<circle cx="369.6" cy="582.2" r="2.0" fill="#ff6060" opacity="0.50"/>
<circle cx="335.7" cy="537.2" r="2.1" fill="#ff5050" opacity="0.50"/>
<circle cx="335.2" cy="533.1" r="1.4" fill="#ff5050" opacity="0.50"/>
<circle cx="328.6" cy="573.7" r="2.3" fill="#ff6060" opacity="0.50"/>
<circle cx="306.8" cy="569.9" r="1.1" fill="#ff5050" opacity="0.50"/>
<circle cx="348.2" cy="581.0" r="2.0" fill="#ff5050" opacity="0.50"/>
<circle cx="353.7" cy="564.3" r="1.3" fill="#ff5050" opacity="0.50"/>
<circle cx="371.0" cy="550.4" r="1.5" fill="#ff5050" opacity="0.50"/>
<circle cx="316.4" cy="523.4" r="2.1" fill="#a00606" opacity="0.50"/>
<circle cx="333.6" cy="548.3" r="1.7" fill="#ff5050" opacity="0.50"/>
<circle cx="339.3" cy="579.0" r="2.2" fill="#ff5050" opacity="0.50"/>
<circle cx="382.1" cy="542.0" r="2.3" fill="#ff5050" opacity="0.50"/>
<circle cx="360.9" cy="544.8" r="2.1" fill="#ff5050" opacity="0.50"/>
<circle cx="379.2" cy="532.1" r="1.7" fill="#a00606" opacity="0.50"/>
<circle cx="372.3" cy="526.1" r="2.4" fill="#b00808" opacity="0.50"/>
<circle cx="336.1" cy="578.9" r="2.5" fill="#a00606" opacity="0.50"/>
<circle cx="358.5" cy="581.1" r="1.8" fill="#b00808" opacity="0.50"/>
<circle cx="344.8" cy="550.6" r="1.9" fill="#a00606" opacity="0.50"/>
<circle cx="366.7" cy="539.8" r="1.0" fill="#a00606" opacity="0.50"/>
<circle cx="356.6" cy="543.4" r="2.3" fill="#b00808" opacity="0.50"/>
<circle cx="339.9" cy="557.9" r="1.7" fill="#a00606" opacity="0.50"/>
<circle cx="342.2" cy="584.7" r="1.5" fill="#b00808" opacity="0.50"/>
<circle cx="321.6" cy="535.5" r="2.2" fill="#ff5050" opacity="0.50"/>
<circle cx="323.5" cy="522.1" r="2.3" fill="#b00808" opacity="0.50"/>
<circle cx="322.4" cy="532.3" r="2.5" fill="#ff5050" opacity="0.50"/>
<circle cx="348.9" cy="584.3" r="2.5" fill="#b00808" opacity="0.50"/>
<circle cx="334.4" cy="525.7" r="1.3" fill="#ff5050" opacity="0.50"/>
<circle cx="358.9" cy="551.9" r="1.2" fill="#ff6060" opacity="0.50"/>
<circle cx="349.6" cy="555.4" r="1.5" fill="#a00606" opacity="0.50"/>
<circle cx="339.4" cy="584.0" r="1.6" fill="#ff6060" opacity="0.50"/>
<circle cx="310.2" cy="571.3" r="1.3" fill="#a00606" opacity="0.50"/>
<circle cx="374.1" cy="568.1" r="1.6" fill="#a00606" opacity="0.50"/>
<circle cx="366.1" cy="557.5" r="2.4" fill="#ff6060" opacity="0.50"/>
<circle cx="359.7" cy="542.6" r="2.5" fill="#ff6060" opacity="0.50"/>
<circle cx="352.9" cy="574.4" r="2.6" fill="#ff5050" opacity="0.50"/>
<circle cx="322.9" cy="519.1" r="1.9" fill="#ff6060" opacity="0.50"/>
<circle cx="357.9" cy="537.3" r="1.9" fill="#ff6060" opacity="0.50"/>
<circle cx="342.6" cy="536.3" r="1.5" fill="#ff6060" opacity="0.50"/>
<circle cx="381.0" cy="528.1" r="1.6" fill="#a00606" opacity="0.50"/>
<circle cx="353.0" cy="554.8" r="2.2" fill="#ff6060" opacity="0.50"/>
<circle cx="327.7" cy="546.9" r="2.2" fill="#a00606" opacity="0.50"/>
<circle cx="342.3" cy="564.6" r="1.6" fill="#a00606" opacity="0.50"/>
<circle cx="381.0" cy="552.2" r="1.9" fill="#ff6060" opacity="0.50"/>
<circle cx="376.2" cy="522.8" r="1.9" fill="#ff5050" opacity="0.50"/>
<circle cx="327.3" cy="517.9" r="2.5" fill="#ff5050" opacity="0.50"/>
<circle cx="318.4" cy="542.8" r="1.6" fill="#a00606" opacity="0.50"/>
<circle cx="307.1" cy="563.2" r="1.1" fill="#ff5050" opacity="0.50"/>
<circle cx="336.6" cy="527.5" r="2.4" fill="#ff5050" opacity="0.50"/>
<circle cx="338.6" cy="564.1" r="1.1" fill="#ff6060" opacity="0.50"/>
<circle cx="353.3" cy="580.9" r="2.4" fill="#ff5050" opacity="0.50"/>
<circle cx="336.9" cy="550.9" r="1.1" fill="#b00808" opacity="0.50"/>
<circle cx="304.5" cy="581.9" r="2.4" fill="#ff5050" opacity="0.50"/>
<circle cx="313.3" cy="538.2" r="1.5" fill="#ff6060" opacity="0.50"/>
<circle cx="380.6" cy="584.4" r="2.5" fill="#a00606" opacity="0.50"/>
<circle cx="373.9" cy="581.6" r="1.0" fill="#b00808" opacity="0.50"/>
<circle cx="368.6" cy="585.8" r="1.9" fill="#ff6060" opacity="0.50"/>
<circle cx="380.2" cy="523.6" r="1.8" fill="#ff5050" opacity="0.50"/>
<circle cx="311.1" cy="538.0" r="1.5" fill="#ff5050" opacity="0.50"/>
<circle cx="336.7" cy="527.9" r="1.3" fill="#ff5050" opacity="0.50"/>
<circle cx="302.1" cy="522.3" r="2.3" fill="#b00808" opacity="0.50"/>
<circle cx="371.8" cy="545.5" r="1.5" fill="#ff6060" opacity="0.50"/>
<circle cx="334.8" cy="579.1" r="1.4" fill="#ff5050" opacity="0.50"/>
<circle cx="351.0" cy="553.6" r="1.5" fill="#ff6060" opacity="0.50"/>
<circle cx="340.1" cy="533.7" r="2.4" fill="#a00606" opacity="0.50"/>
<circle cx="318.8" cy="532.1" r="1.7" fill="#a00606" opacity="0.50"/>
<circle cx="367.6" cy="540.4" r="1.4" fill="#ff6060" opacity="0.50"/>
<circle cx="351.9" cy="556.9" r="1.9" fill="#ff5050" opacity="0.50"/>
<circle cx="317.5" cy="533.6" r="1.5" fill="#ff6060" opacity="0.50"/>
<circle cx="363.9" cy="531.7" r="1.1" fill="#a00606" opacity="0.50"/>
<circle cx="347.2" cy="523.1" r="2.2" fill="#a00606" opacity="0.50"/>
<circle cx="339.0" cy="520.8" r="1.9" fill="#a00606" opacity="0.50"/>
<circle cx="333.0" cy="542.0" r="2.5" fill="#b00808" opacity="0.50"/>
<circle cx="385.7" cy="546.3" r="2.1" fill="#a00606" opacity="0.50"/>
<circle cx="330.3" cy="571.7" r="1.6" fill="#ff6060" opacity="0.50"/>
<circle cx="349.1" cy="582.2" r="1.1" fill="#ff5050" opacity="0.50"/>
<circle cx="306.4" cy="519.9" r="2.5" fill="#b00808" opacity="0.50"/>
<circle cx="378.6" cy="527.5" r="1.3" fill="#b00808" opacity="0.50"/>
<circle cx="382.4" cy="581.3" r="1.5" fill="#a00606" opacity="0.50"/>
<circle cx="313.9" cy="566.5" r="2.5" fill="#a00606" opacity="0.50"/>
<circle cx="321.9" cy="565.6" r="1.4" fill="#b00808" opacity="0.50"/>
<circle cx="332.8" cy="567.3" r="2.5" fill="#a00606" opacity="0.50"/>
<circle cx="380.6" cy="522.6" r="1.3" fill="#ff6060" opacity="0.50"/>
<circle cx="358.6" cy="526.1" r="1.5" fill="#ff5050" opacity="0.50"/>
<circle cx="324.9" cy="553.4" r="2.3" fill="#b00808" opacity="0.50"/>
<circle cx="365.8" cy="553.7" r="2.5" fill="#ff5050" opacity="0.50"/>
<circle cx="356.7" cy="518.8" r="2.5" fill="#a00606" opacity="0.50"/>
<circle cx="315.4" cy="540.3" r="1.9" fill="#ff6060" opacity="0.50"/>
<circle cx="342.5" cy="578.7" r="2.0" fill="#ff6060" opacity="0.50"/>
<circle cx="352.5" cy="575.5" r="1.7" fill="#a00606" opacity="0.50"/>
<circle cx="314.3" cy="549.7" r="2.1" fill="#b00808" opacity="0.50"/>
<circle cx="365.9" cy="545.1" r="1.1" fill="#a00606" opacity="0.50"/>
<circle cx="305.8" cy="545.1" r="2.3" fill="#ff5050" opacity="0.50"/>
<circle cx="304.0" cy="546.7" r="2.5" fill="#ff5050" opacity="0.50"/>
<circle cx="341.0" cy="530.2" r="1.0" fill="#ff6060" opacity="0.50"/>
<circle cx="383.4" cy="540.7" r="2.4" fill="#ff6060" opacity="0.50"/>
<circle cx="359.6" cy="534.8" r="2.2" fill="#a00606" opacity="0.50"/>
<circle cx="331.9" cy="578.1" r="1.9" fill="#b00808" opacity="0.50"/>
<circle cx="338.0" cy="557.8" r="1.4" fill="#b00808" opacity="0.50"/>
<circle cx="321.5" cy="581.6" r="2.4" fill="#a00606" opacity="0.50"/>
<circle cx="341.2" cy="556.0" r="2.5" fill="#a00606" opacity="0.50"/>
<circle cx="380.2" cy="539.1" r="1.9" fill="#b00808" opacity="0.50"/>
<circle cx="315.2" cy="582.4" r="1.5" fill="#ff5050" opacity="0.50"/>
<circle cx="355.1" cy="517.9" r="1.8" fill="#ff5050" opacity="0.50"/>
<circle cx="343.6" cy="580.7" r="1.8" fill="#b00808" opacity="0.50"/>
<circle cx="359.4" cy="563.0" r="1.6" fill="#b00808" opacity="0.50"/>
<circle cx="350.1" cy="560.9" r="1.7" fill="#ff5050" opacity="0.50"/>
<circle cx="328.8" cy="561.4" r="1.1" fill="#a00606" opacity="0.50"/>
<circle cx="383.2" cy="536.8" r="1.7" fill="#ff5050" opacity="0.50"/>
<circle cx="325.5" cy="521.2" r="1.9" fill="#b00808" opacity="0.50"/>
<circle cx="368.8" cy="535.1" r="2.4" fill="#ff5050" opacity="0.50"/>
<circle cx="337.7" cy="555.6" r="2.5" fill="#b00808" opacity="0.50"/>
<circle cx="374.0" cy="528.0" r="1.5" fill="#ff6060" opacity="0.50"/>
<circle cx="379.6" cy="561.9" r="2.1" fill="#b00808" opacity="0.50"/>
<circle cx="369.3" cy="584.5" r="2.5" fill="#a00606" opacity="0.50"/>
<circle cx="368.8" cy="566.3" r="2.3" fill="#a00606" opacity="0.50"/>
<circle cx="311.9" cy="550.2" r="2.1" fill="#ff5050" opacity="0.50"/>
<circle cx="379.0" cy="519.3" r="1.8" fill="#ff6060" opacity="0.50"/>
<circle cx="341.4" cy="561.7" r="2.1" fill="#b00808" opacity="0.50"/>
<circle cx="380.1" cy="561.7" r="1.1" fill="#a00606" opacity="0.50"/>
<circle cx="311.2" cy="584.8" r="2.4" fill="#ff6060" opacity="0.50"/>
<circle cx="323.3" cy="559.4" r="2.2" fill="#ff6060" opacity="0.50"/>
<circle cx="384.5" cy="560.2" r="1.2" fill="#ff5050" opacity="0.50"/>
<circle cx="338.5" cy="545.5" r="1.6" fill="#ff5050" opacity="0.50"/>
<circle cx="349.7" cy="582.1" r="2.0" fill="#b00808" opacity="0.50"/>
<circle cx="320.8" cy="566.3" r="1.1" fill="#a00606" opacity="0.50"/>
<circle cx="343.9" cy="584.6" r="1.4" fill="#ff5050" opacity="0.50"/>
<circle cx="360.2" cy="552.9" r="1.5" fill="#ff6060" opacity="0.50"/>
<circle cx="359.9" cy="519.5" r="1.4" fill="#ff5050" opacity="0.50"/>
<circle cx="329.7" cy="581.0" r="2.5" fill="#ff6060" opacity="0.50"/>
<circle cx="346.6" cy="557.4" r="1.5" fill="#b00808" opacity="0.50"/>
<circle cx="366.8" cy="540.5" r="1.4" fill="#b00808" opacity="0.50"/>
<circle cx="307.5" cy="524.3" r="2.1" fill="#ff5050" opacity="0.50"/>
<circle cx="341.6" cy="568.6" r="1.4" fill="#a00606" opacity="0.50"/>
<circle cx="380.1" cy="542.6" r="1.7" fill="#b00808" opacity="0.50"/>
<circle cx="307.9" cy="521.3" r="1.6" fill="#b00808" opacity="0.50"/>
<circle cx="320.0" cy="580.5" r="2.3" fill="#ff5050" opacity="0.50"/>
<circle cx="312.2" cy="547.3" r="2.1" fill="#ff6060" opacity="0.50"/>
<circle cx="351.1" cy="546.4" r="1.0" fill="#ff5050" opacity="0.50"/>
<circle cx="317.9" cy="570.0" r="1.1" fill="#a00606" opacity="0.50"/>
<circle cx="317.4" cy="583.9" r="2.3" fill="#ff6060" opacity="0.50"/>
<circle cx="324.5" cy="572.2" r="1.1" fill="#ff5050" opacity="0.50"/>
<circle cx="340.2" cy="547.2" r="1.2" fill="#b00808" opacity="0.50"/>
<circle cx="318.2" cy="535.0" r="2.4" fill="#ff5050" opacity="0.50"/>
<circle cx="302.2" cy="549.4" r="2.0" fill="#a00606" opacity="0.50"/>
<circle cx="385.4" cy="551.7" r="2.3" fill="#a00606" opacity="0.50"/>
<circle cx="335.8" cy="562.1" r="2.1" fill="#b00808" opacity="0.50"/>
<circle cx="305.9" cy="566.2" r="1.2" fill="#ff5050" opacity="0.50"/>
<circle cx="349.8" cy="545.2" r="1.6" fill="#b00808" opacity="0.50"/>
<circle cx="363.2" cy="560.0" r="1.3" fill="#a00606" opacity="0.50"/>
<circle cx="373.4" cy="550.9" r="1.9" fill="#ff6060" opacity="0.50"/>
<circle cx="379.6" cy="561.3" r="1.5" fill="#ff5050" opacity="0.50"/>
<circle cx="320.5" cy="576.8" r="1.8" fill="#b00808" opacity="0.50"/>
<circle cx="363.9" cy="577.1" r="1.3" fill="#ff5050" opacity="0.50"/>
<circle cx="368.3" cy="566.1" r="1.7" fill="#ff6060" opacity="0.50"/>
<circle cx="357.5" cy="531.7" r="1.7" fill="#a00606" opacity="0.50"/>
<circle cx="354.2" cy="545.8" r="1.5" fill="#ff5050" opacity="0.50"/>
<circle cx="340.1" cy="550.0" r="2.4" fill="#b00808" opacity="0.50"/>
<circle cx="357.2" cy="564.0" r="1.8" fill="#b00808" opacity="0.50"/>
<circle cx="376.2" cy="522.8" r="1.4" fill="#a00606" opacity="0.50"/>
<circle cx="362.6" cy="582.6" r="2.0" fill="#b00808" opacity="0.50"/>
<circle cx="338.4" cy="562.3" r="1.4" fill="#ff5050" opacity="0.50"/>
<circle cx="347.2" cy="584.6" r="1.5" fill="#b00808" opacity="0.50"/>
<circle cx="303.4" cy="546.1" r="2.2" fill="#ff6060" opacity="0.50"/>
<circle cx="309.6" cy="543.6" r="2.4" fill="#ff6060" opacity="0.50"/>
<circle cx="385.2" cy="531.1" r="2.5" fill="#ff5050" opacity="0.50"/>
<circle cx="343.7" cy="521.2" r="1.3" fill="#b00808" opacity="0.50"/>
<circle cx="307.6" cy="584.5" r="2.1" fill="#ff6060" opacity="0.50"/>
<circle cx="364.5" cy="557.2" r="1.4" fill="#b00808" opacity="0.50"/>
<circle cx="347.6" cy="585.1" r="1.2" fill="#ff6060" opacity="0.50"/>
<circle cx="369.8" cy="552.5" r="1.0" fill="#ff6060" opacity="0.50"/>
<circle cx="346.2" cy="551.5" r="1.3" fill="#b00808" opacity="0.50"/>
<circle cx="357.5" cy="537.4" r="2.3" fill="#b00808" opacity="0.50"/>
<circle cx="358.6" cy="524.4" r="1.1" fill="#b00808" opacity="0.50"/>
<circle cx="346.4" cy="585.4" r="1.9" fill="#ff6060" opacity="0.50"/>
<circle cx="331.5" cy="569.5" r="1.1" fill="#ff6060" opacity="0.50"/>
<circle cx="347.7" cy="529.2" r="1.6" fill="#a00606" opacity="0.50"/>
<circle cx="333.8" cy="536.4" r="1.6" fill="#ff5050" opacity="0.50"/>
<circle cx="347.2" cy="544.9" r="1.6" fill="#ff6060" opacity="0.50"/>
<circle cx="354.5" cy="574.7" r="2.0" fill="#a00606" opacity="0.50"/>
<circle cx="316.9" cy="525.7" r="1.1" fill="#ff5050" opacity="0.50"/>
<circle cx="363.9" cy="535.8" r="1.8" fill="#ff5050" opacity="0.50"/>
<circle cx="357.7" cy="537.6" r="1.5" fill="#ff6060" opacity="0.50"/>
<circle cx="360.6" cy="540.7" r="2.4" fill="#a00606" opacity="0.50"/>
<circle cx="372.8" cy="565.6" r="1.0" fill="#ff6060" opacity="0.50"/>
<circle cx="353.0" cy="585.1" r="1.4" fill="#a00606" opacity="0.50"/>
<circle cx="352.4" cy="539.5" r="2.0" fill="#ff6060" opacity="0.50"/>
<circle cx="368.0" cy="578.3" r="1.3" fill="#a00606" opacity="0.50"/>
<circle cx="378.7" cy="563.9" r="1.3" fill="#ff6060" opacity="0.50"/>
<circle cx="352.6" cy="541.5" r="2.2" fill="#ff6060" opacity="0.50"/>
<circle cx="375.1" cy="533.2" r="1.6" fill="#a00606" opacity="0.50"/>
<circle cx="343.3" cy="563.4" r="2.4" fill="#ff5050" opacity="0.50"/>
<circle cx="366.2" cy="564.2" r="2.5" fill="#ff5050" opacity="0.50"/>
<circle cx="310.0" cy="520.7" r="1.6" fill="#b00808" opacity="0.50"/>
</g>
<g clip-path="url(#pgr)">
<rect x="330.0" y="484.0" width="45.5" height="51.0" fill="#1ee01e"/>
<circle cx="357.1" cy="527.3" r="1.3" fill="#60f060" opacity="0.50"/>
<circle cx="349.2" cy="529.5" r="2.1" fill="#10a010" opacity="0.50"/>
<circle cx="332.9" cy="492.5" r="2.2" fill="#60f060" opacity="0.50"/>
<circle cx="351.3" cy="499.2" r="2.0" fill="#10a010" opacity="0.50"/>
<circle cx="341.9" cy="485.2" r="2.5" fill="#10a010" opacity="0.50"/>
<circle cx="342.4" cy="485.8" r="1.6" fill="#60f060" opacity="0.50"/>
<circle cx="342.7" cy="490.5" r="2.4" fill="#10a010" opacity="0.50"/>
<circle cx="360.5" cy="494.3" r="2.0" fill="#10a010" opacity="0.50"/>
<circle cx="361.1" cy="509.5" r="1.8" fill="#10a010" opacity="0.50"/>
<circle cx="346.8" cy="498.0" r="1.8" fill="#60f060" opacity="0.50"/>
<circle cx="343.4" cy="499.5" r="1.7" fill="#60f060" opacity="0.50"/>
<circle cx="358.0" cy="499.0" r="1.5" fill="#10a010" opacity="0.50"/>
<circle cx="361.1" cy="521.5" r="1.8" fill="#10a010" opacity="0.50"/>
<circle cx="352.8" cy="496.1" r="2.0" fill="#60f060" opacity="0.50"/>
<circle cx="334.2" cy="497.1" r="2.6" fill="#10a010" opacity="0.50"/>
<circle cx="353.4" cy="500.2" r="2.4" fill="#10a010" opacity="0.50"/>
<circle cx="374.1" cy="488.7" r="2.6" fill="#60f060" opacity="0.50"/>
<circle cx="368.7" cy="524.1" r="2.2" fill="#60f060" opacity="0.50"/>
<circle cx="350.5" cy="533.5" r="2.5" fill="#60f060" opacity="0.50"/>
<circle cx="356.3" cy="493.5" r="1.8" fill="#60f060" opacity="0.50"/>
<circle cx="360.3" cy="495.6" r="1.8" fill="#10a010" opacity="0.50"/>
<circle cx="374.1" cy="530.2" r="2.1" fill="#60f060" opacity="0.50"/>
<circle cx="340.6" cy="517.2" r="1.5" fill="#60f060" opacity="0.50"/>
<circle cx="341.6" cy="500.2" r="1.4" fill="#60f060" opacity="0.50"/>
<circle cx="373.5" cy="494.0" r="1.5" fill="#60f060" opacity="0.50"/>
<circle cx="364.0" cy="487.8" r="1.2" fill="#60f060" opacity="0.50"/>
<circle cx="365.4" cy="516.1" r="2.2" fill="#10a010" opacity="0.50"/>
<circle cx="359.1" cy="533.2" r="2.3" fill="#60f060" opacity="0.50"/>
<circle cx="344.9" cy="490.6" r="1.2" fill="#60f060" opacity="0.50"/>
<circle cx="368.7" cy="499.9" r="2.4" fill="#10a010" opacity="0.50"/>
<circle cx="347.9" cy="516.7" r="1.8" fill="#60f060" opacity="0.50"/>
<circle cx="341.4" cy="498.7" r="2.5" fill="#60f060" opacity="0.50"/>
<circle cx="333.9" cy="494.1" r="1.5" fill="#10a010" opacity="0.50"/>
<circle cx="371.7" cy="517.6" r="1.4" fill="#10a010" opacity="0.50"/>
<circle cx="371.7" cy="500.7" r="1.2" fill="#10a010" opacity="0.50"/>
</g>
<path d="M330 470 L345 476 L352 482 L360 496 L372 505 L385 510 L395 500 M338 505 L352 503 L366 512 L378 522 M348 468 L356 486" stroke="#d88848" stroke-width="1.1" fill="none" opacity="0.8"/>
<path d="M326 466 L334 470 L342 466 M392 508 L400 498" stroke="#9a60c8" stroke-width="1.1" fill="none" opacity="0.75"/>

<!-- molecule -->
<clipPath id="molc"><rect x="608.3" y="646.2" width="97.7" height="65.3"/></clipPath>
<rect x="608.3" y="646.2" width="97.7" height="65.3" fill="#f2f2f2"/>
<g clip-path="url(#molc)">
<path d="M608 646 H668 L664 664 L652 690 L662 712 H608 Z" fill="#d4d4d4"/>
<!-- grey helices left -->
<g stroke-linecap="round" fill="none">
<path d="M606 650 L640 668" stroke="#8c8c8c" stroke-width="9"/>
<path d="M612 648 Q616 656 622 652 Q626 660 632 656 Q636 664 641 660" stroke="#d8d8d8" stroke-width="2.2"/>
<path d="M630 646 L664 662" stroke="#9a9a9a" stroke-width="9"/>
<path d="M634 647 Q640 655 646 651 Q650 659 656 655" stroke="#e4e4e4" stroke-width="2"/>
<path d="M606 668 L626 678" stroke="#a8a8a8" stroke-width="8"/>
<path d="M614 684 L616 712" stroke="#9c9c9c" stroke-width="10"/>
<path d="M610 690 Q618 688 622 694 M610 700 Q618 698 622 704" stroke="#e8e8e8" stroke-width="1.8"/>
<path d="M632 686 L646 712" stroke="#7a7a7a" stroke-width="11"/>
<path d="M628 690 Q636 690 638 696 M632 700 Q640 700 642 706" stroke="#cfcfcf" stroke-width="1.8"/>
<path d="M650 692 L668 712" stroke="#b4b4b4" stroke-width="7"/>
<path d="M690 648 L704 672" stroke="#8a8a8a" stroke-width="9"/>
<path d="M688 654 Q696 652 698 658 M692 664 Q700 662 702 668" stroke="#dcdcdc" stroke-width="1.8"/>
<path d="M664 650 L682 650" stroke="#b0b0b0" stroke-width="5"/>
<path d="M640 676 L652 684" stroke="#c8c8c8" stroke-width="5"/>
</g>
<path d="M664 652 L676 649 L674 668 L664 672 Z" fill="#f4f4f4"/>
<path d="M652 686 L668 690 L660 712 L648 712 Z" fill="#e8e8e8"/>
<!-- DNA backbone -->
<path d="M660 668 Q668 654 686 649 Q704 648 706 664 Q702 684 690 694 Q684 702 680 712" stroke="#c67a2e" stroke-width="2.6" fill="none"/>
<path d="M676 712 Q686 700 684 688 Q680 676 672 672" stroke="#c67a2e" stroke-width="2.4" fill="none"/>
<g stroke="#3a50c8" stroke-width="1.2">
<path d="M677 660 V684 M689 656 V690 M699 664 L697 684 M660 690 L670 702 M664 704 L676 696 M658 698 L668 692"/>
</g>
<g stroke="#3cc060" stroke-width="1">
<path d="M680 660 V680 M692 656 L690 674 M668 690 L682 700 M670 698 L686 688 M674 704 L686 694"/>
</g>
<path d="M644 674 L660 671 L661 679 L645 682 Z" fill="#f0e820"/>
<path d="M636 682 L645 678 M660 675 L668 673" stroke="#d8d040" stroke-width="1.2"/>
<circle cx="667" cy="667" r="2.2" fill="#e01818"/>
<circle cx="673" cy="684" r="3" fill="#e01818"/>
<path d="M690 700 Q698 696 704 708" stroke="#9a9a9a" stroke-width="0.8" fill="none"/>
</g>
<rect x="608.3" y="646.2" width="97.7" height="65.3" fill="none" stroke="#a8a8a8" stroke-width="0.8"/>

</svg>
</body></html>
